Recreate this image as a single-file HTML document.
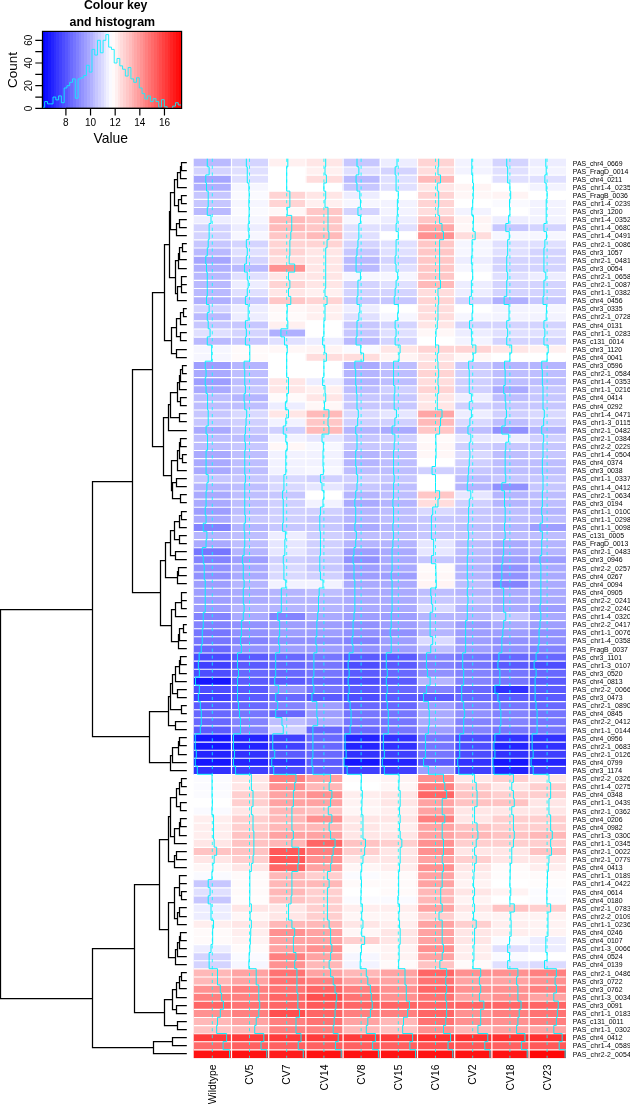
<!DOCTYPE html>
<html lang="en"><head><meta charset="utf-8"><title>Heatmap</title>
<style>html,body{margin:0;padding:0;background:#fff}svg{display:block}</style></head>
<body>
<svg width="630" height="1104" viewBox="0 0 630 1104" font-family="'Liberation Sans', Arial, Helvetica, sans-serif">
<rect width="630" height="1104" fill="#fff"/>
<g>
<rect x="193.7" y="158.7" width="37.5" height="8.4" fill="#babaff"/>
<rect x="230.9" y="158.7" width="37.5" height="8.4" fill="#d4d4ff"/>
<rect x="268.1" y="158.7" width="37.5" height="8.4" fill="#fff0f0"/>
<rect x="305.3" y="158.7" width="37.5" height="8.4" fill="#ffe6e6"/>
<rect x="342.5" y="158.7" width="37.5" height="8.4" fill="#c7c7ff"/>
<rect x="379.7" y="158.7" width="37.5" height="8.4" fill="#ededff"/>
<rect x="416.9" y="158.7" width="37.5" height="8.4" fill="#ffd4d4"/>
<rect x="454.1" y="158.7" width="37.5" height="8.4" fill="#f3f3ff"/>
<rect x="491.3" y="158.7" width="37.5" height="8.4" fill="#d4d4ff"/>
<rect x="528.5" y="158.7" width="37.5" height="8.4" fill="#ededff"/>
<rect x="193.7" y="166.8" width="37.5" height="8.4" fill="#d4d4ff"/>
<rect x="230.9" y="166.8" width="37.5" height="8.4" fill="#e0e0ff"/>
<rect x="268.1" y="166.8" width="37.5" height="8.4" fill="#ffffff"/>
<rect x="305.3" y="166.8" width="37.5" height="8.4" fill="#fff0f0"/>
<rect x="342.5" y="166.8" width="37.5" height="8.4" fill="#e0e0ff"/>
<rect x="379.7" y="166.8" width="37.5" height="8.4" fill="#d4d4ff"/>
<rect x="416.9" y="166.8" width="37.5" height="8.4" fill="#ffdddd"/>
<rect x="454.1" y="166.8" width="37.5" height="8.4" fill="#f3f3ff"/>
<rect x="491.3" y="166.8" width="37.5" height="8.4" fill="#e0e0ff"/>
<rect x="528.5" y="166.8" width="37.5" height="8.4" fill="#f3f3ff"/>
<rect x="193.7" y="174.9" width="37.5" height="8.4" fill="#a6a6ff"/>
<rect x="230.9" y="174.9" width="37.5" height="8.4" fill="#e0e0ff"/>
<rect x="268.1" y="174.9" width="37.5" height="8.4" fill="#ffffff"/>
<rect x="305.3" y="174.9" width="37.5" height="8.4" fill="#ffdddd"/>
<rect x="342.5" y="174.9" width="37.5" height="8.4" fill="#babaff"/>
<rect x="379.7" y="174.9" width="37.5" height="8.4" fill="#e0e0ff"/>
<rect x="416.9" y="174.9" width="37.5" height="8.4" fill="#ffbaba"/>
<rect x="454.1" y="174.9" width="37.5" height="8.4" fill="#ffffff"/>
<rect x="491.3" y="174.9" width="37.5" height="8.4" fill="#e0e0ff"/>
<rect x="528.5" y="174.9" width="37.5" height="8.4" fill="#e0e0ff"/>
<rect x="193.7" y="183" width="37.5" height="8.4" fill="#b0b0ff"/>
<rect x="230.9" y="183" width="37.5" height="8.4" fill="#f6f6ff"/>
<rect x="268.1" y="183" width="37.5" height="8.4" fill="#ffffff"/>
<rect x="305.3" y="183" width="37.5" height="8.4" fill="#ffffff"/>
<rect x="342.5" y="183" width="37.5" height="8.4" fill="#c7c7ff"/>
<rect x="379.7" y="183" width="37.5" height="8.4" fill="#e0e0ff"/>
<rect x="416.9" y="183" width="37.5" height="8.4" fill="#ffe6e6"/>
<rect x="454.1" y="183" width="37.5" height="8.4" fill="#fff4f4"/>
<rect x="491.3" y="183" width="37.5" height="8.4" fill="#ffffff"/>
<rect x="528.5" y="183" width="37.5" height="8.4" fill="#f3f3ff"/>
<rect x="193.7" y="191.1" width="37.5" height="8.4" fill="#c7c7ff"/>
<rect x="230.9" y="191.1" width="37.5" height="8.4" fill="#fafaff"/>
<rect x="268.1" y="191.1" width="37.5" height="8.4" fill="#ffd4d4"/>
<rect x="305.3" y="191.1" width="37.5" height="8.4" fill="#ffe6e6"/>
<rect x="342.5" y="191.1" width="37.5" height="8.4" fill="#ededff"/>
<rect x="379.7" y="191.1" width="37.5" height="8.4" fill="#ffffff"/>
<rect x="416.9" y="191.1" width="37.5" height="8.4" fill="#ffd4d4"/>
<rect x="454.1" y="191.1" width="37.5" height="8.4" fill="#fff7f7"/>
<rect x="491.3" y="191.1" width="37.5" height="8.4" fill="#fff4f4"/>
<rect x="528.5" y="191.1" width="37.5" height="8.4" fill="#ffffff"/>
<rect x="193.7" y="199.2" width="37.5" height="8.4" fill="#c7c7ff"/>
<rect x="230.9" y="199.2" width="37.5" height="8.4" fill="#f6f6ff"/>
<rect x="268.1" y="199.2" width="37.5" height="8.4" fill="#ffd4d4"/>
<rect x="305.3" y="199.2" width="37.5" height="8.4" fill="#fff0f0"/>
<rect x="342.5" y="199.2" width="37.5" height="8.4" fill="#f6f6ff"/>
<rect x="379.7" y="199.2" width="37.5" height="8.4" fill="#f3f3ff"/>
<rect x="416.9" y="199.2" width="37.5" height="8.4" fill="#ffd4d4"/>
<rect x="454.1" y="199.2" width="37.5" height="8.4" fill="#ffffff"/>
<rect x="491.3" y="199.2" width="37.5" height="8.4" fill="#fafaff"/>
<rect x="528.5" y="199.2" width="37.5" height="8.4" fill="#f3f3ff"/>
<rect x="193.7" y="207.3" width="37.5" height="8.4" fill="#babaff"/>
<rect x="230.9" y="207.3" width="37.5" height="8.4" fill="#fafaff"/>
<rect x="268.1" y="207.3" width="37.5" height="8.4" fill="#fff7f7"/>
<rect x="305.3" y="207.3" width="37.5" height="8.4" fill="#ffc7c7"/>
<rect x="342.5" y="207.3" width="37.5" height="8.4" fill="#d4d4ff"/>
<rect x="379.7" y="207.3" width="37.5" height="8.4" fill="#f3f3ff"/>
<rect x="416.9" y="207.3" width="37.5" height="8.4" fill="#ffdddd"/>
<rect x="454.1" y="207.3" width="37.5" height="8.4" fill="#f3f3ff"/>
<rect x="491.3" y="207.3" width="37.5" height="8.4" fill="#ffffff"/>
<rect x="528.5" y="207.3" width="37.5" height="8.4" fill="#f3f3ff"/>
<rect x="193.7" y="215.4" width="37.5" height="8.4" fill="#ededff"/>
<rect x="230.9" y="215.4" width="37.5" height="8.4" fill="#f6f6ff"/>
<rect x="268.1" y="215.4" width="37.5" height="8.4" fill="#ffbaba"/>
<rect x="305.3" y="215.4" width="37.5" height="8.4" fill="#ffc7c7"/>
<rect x="342.5" y="215.4" width="37.5" height="8.4" fill="#f6f6ff"/>
<rect x="379.7" y="215.4" width="37.5" height="8.4" fill="#ededff"/>
<rect x="416.9" y="215.4" width="37.5" height="8.4" fill="#ffc7c7"/>
<rect x="454.1" y="215.4" width="37.5" height="8.4" fill="#fff4f4"/>
<rect x="491.3" y="215.4" width="37.5" height="8.4" fill="#ededff"/>
<rect x="528.5" y="215.4" width="37.5" height="8.4" fill="#f3f3ff"/>
<rect x="193.7" y="223.5" width="37.5" height="8.4" fill="#d4d4ff"/>
<rect x="230.9" y="223.5" width="37.5" height="8.4" fill="#ededff"/>
<rect x="268.1" y="223.5" width="37.5" height="8.4" fill="#ffbaba"/>
<rect x="305.3" y="223.5" width="37.5" height="8.4" fill="#ffc7c7"/>
<rect x="342.5" y="223.5" width="37.5" height="8.4" fill="#e0e0ff"/>
<rect x="379.7" y="223.5" width="37.5" height="8.4" fill="#e0e0ff"/>
<rect x="416.9" y="223.5" width="37.5" height="8.4" fill="#ffa6a6"/>
<rect x="454.1" y="223.5" width="37.5" height="8.4" fill="#fff7f7"/>
<rect x="491.3" y="223.5" width="37.5" height="8.4" fill="#c7c7ff"/>
<rect x="528.5" y="223.5" width="37.5" height="8.4" fill="#d4d4ff"/>
<rect x="193.7" y="231.6" width="37.5" height="8.4" fill="#d4d4ff"/>
<rect x="230.9" y="231.6" width="37.5" height="8.4" fill="#f6f6ff"/>
<rect x="268.1" y="231.6" width="37.5" height="8.4" fill="#ffc7c7"/>
<rect x="305.3" y="231.6" width="37.5" height="8.4" fill="#ffbaba"/>
<rect x="342.5" y="231.6" width="37.5" height="8.4" fill="#e0e0ff"/>
<rect x="379.7" y="231.6" width="37.5" height="8.4" fill="#ffffff"/>
<rect x="416.9" y="231.6" width="37.5" height="8.4" fill="#ff9191"/>
<rect x="454.1" y="231.6" width="37.5" height="8.4" fill="#ffdddd"/>
<rect x="491.3" y="231.6" width="37.5" height="8.4" fill="#f6f6ff"/>
<rect x="528.5" y="231.6" width="37.5" height="8.4" fill="#f6f6ff"/>
<rect x="193.7" y="239.7" width="37.5" height="8.4" fill="#c7c7ff"/>
<rect x="230.9" y="239.7" width="37.5" height="8.4" fill="#d4d4ff"/>
<rect x="268.1" y="239.7" width="37.5" height="8.4" fill="#ffd4d4"/>
<rect x="305.3" y="239.7" width="37.5" height="8.4" fill="#ffd4d4"/>
<rect x="342.5" y="239.7" width="37.5" height="8.4" fill="#d4d4ff"/>
<rect x="379.7" y="239.7" width="37.5" height="8.4" fill="#e0e0ff"/>
<rect x="416.9" y="239.7" width="37.5" height="8.4" fill="#ffc7c7"/>
<rect x="454.1" y="239.7" width="37.5" height="8.4" fill="#f6f6ff"/>
<rect x="491.3" y="239.7" width="37.5" height="8.4" fill="#e0e0ff"/>
<rect x="528.5" y="239.7" width="37.5" height="8.4" fill="#e0e0ff"/>
<rect x="193.7" y="247.8" width="37.5" height="8.4" fill="#babaff"/>
<rect x="230.9" y="247.8" width="37.5" height="8.4" fill="#e0e0ff"/>
<rect x="268.1" y="247.8" width="37.5" height="8.4" fill="#ffd4d4"/>
<rect x="305.3" y="247.8" width="37.5" height="8.4" fill="#ffe6e6"/>
<rect x="342.5" y="247.8" width="37.5" height="8.4" fill="#c7c7ff"/>
<rect x="379.7" y="247.8" width="37.5" height="8.4" fill="#e0e0ff"/>
<rect x="416.9" y="247.8" width="37.5" height="8.4" fill="#ffc7c7"/>
<rect x="454.1" y="247.8" width="37.5" height="8.4" fill="#f6f6ff"/>
<rect x="491.3" y="247.8" width="37.5" height="8.4" fill="#e0e0ff"/>
<rect x="528.5" y="247.8" width="37.5" height="8.4" fill="#d4d4ff"/>
<rect x="193.7" y="255.9" width="37.5" height="8.4" fill="#a6a6ff"/>
<rect x="230.9" y="255.9" width="37.5" height="8.4" fill="#d4d4ff"/>
<rect x="268.1" y="255.9" width="37.5" height="8.4" fill="#ffdddd"/>
<rect x="305.3" y="255.9" width="37.5" height="8.4" fill="#ffe6e6"/>
<rect x="342.5" y="255.9" width="37.5" height="8.4" fill="#babaff"/>
<rect x="379.7" y="255.9" width="37.5" height="8.4" fill="#d4d4ff"/>
<rect x="416.9" y="255.9" width="37.5" height="8.4" fill="#ffc7c7"/>
<rect x="454.1" y="255.9" width="37.5" height="8.4" fill="#ededff"/>
<rect x="491.3" y="255.9" width="37.5" height="8.4" fill="#d4d4ff"/>
<rect x="528.5" y="255.9" width="37.5" height="8.4" fill="#d4d4ff"/>
<rect x="193.7" y="264" width="37.5" height="8.4" fill="#b0b0ff"/>
<rect x="230.9" y="264" width="37.5" height="8.4" fill="#babaff"/>
<rect x="268.1" y="264" width="37.5" height="8.4" fill="#ff9191"/>
<rect x="305.3" y="264" width="37.5" height="8.4" fill="#ffe6e6"/>
<rect x="342.5" y="264" width="37.5" height="8.4" fill="#babaff"/>
<rect x="379.7" y="264" width="37.5" height="8.4" fill="#e0e0ff"/>
<rect x="416.9" y="264" width="37.5" height="8.4" fill="#ffc7c7"/>
<rect x="454.1" y="264" width="37.5" height="8.4" fill="#f6f6ff"/>
<rect x="491.3" y="264" width="37.5" height="8.4" fill="#d4d4ff"/>
<rect x="528.5" y="264" width="37.5" height="8.4" fill="#d4d4ff"/>
<rect x="193.7" y="272.1" width="37.5" height="8.4" fill="#babaff"/>
<rect x="230.9" y="272.1" width="37.5" height="8.4" fill="#e0e0ff"/>
<rect x="268.1" y="272.1" width="37.5" height="8.4" fill="#ffe6e6"/>
<rect x="305.3" y="272.1" width="37.5" height="8.4" fill="#ffe6e6"/>
<rect x="342.5" y="272.1" width="37.5" height="8.4" fill="#f6f6ff"/>
<rect x="379.7" y="272.1" width="37.5" height="8.4" fill="#f6f6ff"/>
<rect x="416.9" y="272.1" width="37.5" height="8.4" fill="#ffc7c7"/>
<rect x="454.1" y="272.1" width="37.5" height="8.4" fill="#ffffff"/>
<rect x="491.3" y="272.1" width="37.5" height="8.4" fill="#e0e0ff"/>
<rect x="528.5" y="272.1" width="37.5" height="8.4" fill="#ededff"/>
<rect x="193.7" y="280.2" width="37.5" height="8.4" fill="#babaff"/>
<rect x="230.9" y="280.2" width="37.5" height="8.4" fill="#ededff"/>
<rect x="268.1" y="280.2" width="37.5" height="8.4" fill="#ffd4d4"/>
<rect x="305.3" y="280.2" width="37.5" height="8.4" fill="#ffe6e6"/>
<rect x="342.5" y="280.2" width="37.5" height="8.4" fill="#d4d4ff"/>
<rect x="379.7" y="280.2" width="37.5" height="8.4" fill="#e0e0ff"/>
<rect x="416.9" y="280.2" width="37.5" height="8.4" fill="#ffbaba"/>
<rect x="454.1" y="280.2" width="37.5" height="8.4" fill="#ededff"/>
<rect x="491.3" y="280.2" width="37.5" height="8.4" fill="#d4d4ff"/>
<rect x="528.5" y="280.2" width="37.5" height="8.4" fill="#d4d4ff"/>
<rect x="193.7" y="288.3" width="37.5" height="8.4" fill="#babaff"/>
<rect x="230.9" y="288.3" width="37.5" height="8.4" fill="#e0e0ff"/>
<rect x="268.1" y="288.3" width="37.5" height="8.4" fill="#ffe6e6"/>
<rect x="305.3" y="288.3" width="37.5" height="8.4" fill="#fff0f0"/>
<rect x="342.5" y="288.3" width="37.5" height="8.4" fill="#d4d4ff"/>
<rect x="379.7" y="288.3" width="37.5" height="8.4" fill="#d4d4ff"/>
<rect x="416.9" y="288.3" width="37.5" height="8.4" fill="#ffdddd"/>
<rect x="454.1" y="288.3" width="37.5" height="8.4" fill="#ededff"/>
<rect x="491.3" y="288.3" width="37.5" height="8.4" fill="#d4d4ff"/>
<rect x="528.5" y="288.3" width="37.5" height="8.4" fill="#d4d4ff"/>
<rect x="193.7" y="296.4" width="37.5" height="8.4" fill="#b0b0ff"/>
<rect x="230.9" y="296.4" width="37.5" height="8.4" fill="#c7c7ff"/>
<rect x="268.1" y="296.4" width="37.5" height="8.4" fill="#ffc7c7"/>
<rect x="305.3" y="296.4" width="37.5" height="8.4" fill="#ffd4d4"/>
<rect x="342.5" y="296.4" width="37.5" height="8.4" fill="#c7c7ff"/>
<rect x="379.7" y="296.4" width="37.5" height="8.4" fill="#c7c7ff"/>
<rect x="416.9" y="296.4" width="37.5" height="8.4" fill="#ffd4d4"/>
<rect x="454.1" y="296.4" width="37.5" height="8.4" fill="#d4d4ff"/>
<rect x="491.3" y="296.4" width="37.5" height="8.4" fill="#b0b0ff"/>
<rect x="528.5" y="296.4" width="37.5" height="8.4" fill="#c7c7ff"/>
<rect x="193.7" y="304.5" width="37.5" height="8.4" fill="#d4d4ff"/>
<rect x="230.9" y="304.5" width="37.5" height="8.4" fill="#ededff"/>
<rect x="268.1" y="304.5" width="37.5" height="8.4" fill="#fff7f7"/>
<rect x="305.3" y="304.5" width="37.5" height="8.4" fill="#fff0f0"/>
<rect x="342.5" y="304.5" width="37.5" height="8.4" fill="#ededff"/>
<rect x="379.7" y="304.5" width="37.5" height="8.4" fill="#ffffff"/>
<rect x="416.9" y="304.5" width="37.5" height="8.4" fill="#ffdddd"/>
<rect x="454.1" y="304.5" width="37.5" height="8.4" fill="#ffffff"/>
<rect x="491.3" y="304.5" width="37.5" height="8.4" fill="#f3f3ff"/>
<rect x="528.5" y="304.5" width="37.5" height="8.4" fill="#f6f6ff"/>
<rect x="193.7" y="312.6" width="37.5" height="8.4" fill="#babaff"/>
<rect x="230.9" y="312.6" width="37.5" height="8.4" fill="#ededff"/>
<rect x="268.1" y="312.6" width="37.5" height="8.4" fill="#fffafa"/>
<rect x="305.3" y="312.6" width="37.5" height="8.4" fill="#fff0f0"/>
<rect x="342.5" y="312.6" width="37.5" height="8.4" fill="#e0e0ff"/>
<rect x="379.7" y="312.6" width="37.5" height="8.4" fill="#f6f6ff"/>
<rect x="416.9" y="312.6" width="37.5" height="8.4" fill="#ffdddd"/>
<rect x="454.1" y="312.6" width="37.5" height="8.4" fill="#f6f6ff"/>
<rect x="491.3" y="312.6" width="37.5" height="8.4" fill="#f3f3ff"/>
<rect x="528.5" y="312.6" width="37.5" height="8.4" fill="#f3f3ff"/>
<rect x="193.7" y="320.7" width="37.5" height="8.4" fill="#c7c7ff"/>
<rect x="230.9" y="320.7" width="37.5" height="8.4" fill="#c7c7ff"/>
<rect x="268.1" y="320.7" width="37.5" height="8.4" fill="#fff0f0"/>
<rect x="305.3" y="320.7" width="37.5" height="8.4" fill="#ffffff"/>
<rect x="342.5" y="320.7" width="37.5" height="8.4" fill="#c7c7ff"/>
<rect x="379.7" y="320.7" width="37.5" height="8.4" fill="#d4d4ff"/>
<rect x="416.9" y="320.7" width="37.5" height="8.4" fill="#ffe6e6"/>
<rect x="454.1" y="320.7" width="37.5" height="8.4" fill="#d4d4ff"/>
<rect x="491.3" y="320.7" width="37.5" height="8.4" fill="#d4d4ff"/>
<rect x="528.5" y="320.7" width="37.5" height="8.4" fill="#d4d4ff"/>
<rect x="193.7" y="328.8" width="37.5" height="8.4" fill="#e0e0ff"/>
<rect x="230.9" y="328.8" width="37.5" height="8.4" fill="#d4d4ff"/>
<rect x="268.1" y="328.8" width="37.5" height="8.4" fill="#b0b0ff"/>
<rect x="305.3" y="328.8" width="37.5" height="8.4" fill="#ffffff"/>
<rect x="342.5" y="328.8" width="37.5" height="8.4" fill="#c7c7ff"/>
<rect x="379.7" y="328.8" width="37.5" height="8.4" fill="#e0e0ff"/>
<rect x="416.9" y="328.8" width="37.5" height="8.4" fill="#fff7f7"/>
<rect x="454.1" y="328.8" width="37.5" height="8.4" fill="#ededff"/>
<rect x="491.3" y="328.8" width="37.5" height="8.4" fill="#e0e0ff"/>
<rect x="528.5" y="328.8" width="37.5" height="8.4" fill="#e0e0ff"/>
<rect x="193.7" y="336.9" width="37.5" height="8.4" fill="#babaff"/>
<rect x="230.9" y="336.9" width="37.5" height="8.4" fill="#c7c7ff"/>
<rect x="268.1" y="336.9" width="37.5" height="8.4" fill="#e0e0ff"/>
<rect x="305.3" y="336.9" width="37.5" height="8.4" fill="#ededff"/>
<rect x="342.5" y="336.9" width="37.5" height="8.4" fill="#babaff"/>
<rect x="379.7" y="336.9" width="37.5" height="8.4" fill="#d4d4ff"/>
<rect x="416.9" y="336.9" width="37.5" height="8.4" fill="#ffffff"/>
<rect x="454.1" y="336.9" width="37.5" height="8.4" fill="#f3f3ff"/>
<rect x="491.3" y="336.9" width="37.5" height="8.4" fill="#d4d4ff"/>
<rect x="528.5" y="336.9" width="37.5" height="8.4" fill="#d4d4ff"/>
<rect x="193.7" y="345" width="37.5" height="8.4" fill="#f6f6ff"/>
<rect x="230.9" y="345" width="37.5" height="8.4" fill="#fffafa"/>
<rect x="268.1" y="345" width="37.5" height="8.4" fill="#fff7f7"/>
<rect x="305.3" y="345" width="37.5" height="8.4" fill="#fff4f4"/>
<rect x="342.5" y="345" width="37.5" height="8.4" fill="#fafaff"/>
<rect x="379.7" y="345" width="37.5" height="8.4" fill="#ffe6e6"/>
<rect x="416.9" y="345" width="37.5" height="8.4" fill="#ffd4d4"/>
<rect x="454.1" y="345" width="37.5" height="8.4" fill="#ffd4d4"/>
<rect x="491.3" y="345" width="37.5" height="8.4" fill="#ffe6e6"/>
<rect x="528.5" y="345" width="37.5" height="8.4" fill="#fff0f0"/>
<rect x="193.7" y="353.1" width="37.5" height="8.4" fill="#f6f6ff"/>
<rect x="230.9" y="353.1" width="37.5" height="8.4" fill="#fffafa"/>
<rect x="268.1" y="353.1" width="37.5" height="8.4" fill="#ffffff"/>
<rect x="305.3" y="353.1" width="37.5" height="8.4" fill="#ffdddd"/>
<rect x="342.5" y="353.1" width="37.5" height="8.4" fill="#ffdddd"/>
<rect x="379.7" y="353.1" width="37.5" height="8.4" fill="#fff4f4"/>
<rect x="416.9" y="353.1" width="37.5" height="8.4" fill="#ffe6e6"/>
<rect x="454.1" y="353.1" width="37.5" height="8.4" fill="#fff7f7"/>
<rect x="491.3" y="353.1" width="37.5" height="8.4" fill="#ffffff"/>
<rect x="528.5" y="353.1" width="37.5" height="8.4" fill="#ffffff"/>
<rect x="193.7" y="361.2" width="37.5" height="8.4" fill="#9e9eff"/>
<rect x="230.9" y="361.2" width="37.5" height="8.4" fill="#b5b5ff"/>
<rect x="268.1" y="361.2" width="37.5" height="8.4" fill="#ffffff"/>
<rect x="305.3" y="361.2" width="37.5" height="8.4" fill="#ffffff"/>
<rect x="342.5" y="361.2" width="37.5" height="8.4" fill="#aaaaff"/>
<rect x="379.7" y="361.2" width="37.5" height="8.4" fill="#bebeff"/>
<rect x="416.9" y="361.2" width="37.5" height="8.4" fill="#ffdddd"/>
<rect x="454.1" y="361.2" width="37.5" height="8.4" fill="#c7c7ff"/>
<rect x="491.3" y="361.2" width="37.5" height="8.4" fill="#b5b5ff"/>
<rect x="528.5" y="361.2" width="37.5" height="8.4" fill="#b5b5ff"/>
<rect x="193.7" y="369.3" width="37.5" height="8.4" fill="#aaaaff"/>
<rect x="230.9" y="369.3" width="37.5" height="8.4" fill="#bebeff"/>
<rect x="268.1" y="369.3" width="37.5" height="8.4" fill="#ffffff"/>
<rect x="305.3" y="369.3" width="37.5" height="8.4" fill="#ffffff"/>
<rect x="342.5" y="369.3" width="37.5" height="8.4" fill="#b5b5ff"/>
<rect x="379.7" y="369.3" width="37.5" height="8.4" fill="#bebeff"/>
<rect x="416.9" y="369.3" width="37.5" height="8.4" fill="#ffd4d4"/>
<rect x="454.1" y="369.3" width="37.5" height="8.4" fill="#d0d0ff"/>
<rect x="491.3" y="369.3" width="37.5" height="8.4" fill="#bebeff"/>
<rect x="528.5" y="369.3" width="37.5" height="8.4" fill="#bebeff"/>
<rect x="193.7" y="377.4" width="37.5" height="8.4" fill="#9e9eff"/>
<rect x="230.9" y="377.4" width="37.5" height="8.4" fill="#bebeff"/>
<rect x="268.1" y="377.4" width="37.5" height="8.4" fill="#ffe6e6"/>
<rect x="305.3" y="377.4" width="37.5" height="8.4" fill="#ededff"/>
<rect x="342.5" y="377.4" width="37.5" height="8.4" fill="#b5b5ff"/>
<rect x="379.7" y="377.4" width="37.5" height="8.4" fill="#bebeff"/>
<rect x="416.9" y="377.4" width="37.5" height="8.4" fill="#ffdddd"/>
<rect x="454.1" y="377.4" width="37.5" height="8.4" fill="#d0d0ff"/>
<rect x="491.3" y="377.4" width="37.5" height="8.4" fill="#bebeff"/>
<rect x="528.5" y="377.4" width="37.5" height="8.4" fill="#bebeff"/>
<rect x="193.7" y="385.5" width="37.5" height="8.4" fill="#aaaaff"/>
<rect x="230.9" y="385.5" width="37.5" height="8.4" fill="#c7c7ff"/>
<rect x="268.1" y="385.5" width="37.5" height="8.4" fill="#ffe6e6"/>
<rect x="305.3" y="385.5" width="37.5" height="8.4" fill="#fff0f0"/>
<rect x="342.5" y="385.5" width="37.5" height="8.4" fill="#bebeff"/>
<rect x="379.7" y="385.5" width="37.5" height="8.4" fill="#d0d0ff"/>
<rect x="416.9" y="385.5" width="37.5" height="8.4" fill="#ffd4d4"/>
<rect x="454.1" y="385.5" width="37.5" height="8.4" fill="#d0d0ff"/>
<rect x="491.3" y="385.5" width="37.5" height="8.4" fill="#aaaaff"/>
<rect x="528.5" y="385.5" width="37.5" height="8.4" fill="#c7c7ff"/>
<rect x="193.7" y="393.6" width="37.5" height="8.4" fill="#bebeff"/>
<rect x="230.9" y="393.6" width="37.5" height="8.4" fill="#b5b5ff"/>
<rect x="268.1" y="393.6" width="37.5" height="8.4" fill="#fffafa"/>
<rect x="305.3" y="393.6" width="37.5" height="8.4" fill="#ffe6e6"/>
<rect x="342.5" y="393.6" width="37.5" height="8.4" fill="#c7c7ff"/>
<rect x="379.7" y="393.6" width="37.5" height="8.4" fill="#c7c7ff"/>
<rect x="416.9" y="393.6" width="37.5" height="8.4" fill="#ffe6e6"/>
<rect x="454.1" y="393.6" width="37.5" height="8.4" fill="#ededff"/>
<rect x="491.3" y="393.6" width="37.5" height="8.4" fill="#bebeff"/>
<rect x="528.5" y="393.6" width="37.5" height="8.4" fill="#c7c7ff"/>
<rect x="193.7" y="401.7" width="37.5" height="8.4" fill="#bebeff"/>
<rect x="230.9" y="401.7" width="37.5" height="8.4" fill="#bebeff"/>
<rect x="268.1" y="401.7" width="37.5" height="8.4" fill="#ededff"/>
<rect x="305.3" y="401.7" width="37.5" height="8.4" fill="#fff7f7"/>
<rect x="342.5" y="401.7" width="37.5" height="8.4" fill="#c7c7ff"/>
<rect x="379.7" y="401.7" width="37.5" height="8.4" fill="#c7c7ff"/>
<rect x="416.9" y="401.7" width="37.5" height="8.4" fill="#ffe6e6"/>
<rect x="454.1" y="401.7" width="37.5" height="8.4" fill="#d0d0ff"/>
<rect x="491.3" y="401.7" width="37.5" height="8.4" fill="#c7c7ff"/>
<rect x="528.5" y="401.7" width="37.5" height="8.4" fill="#c7c7ff"/>
<rect x="193.7" y="409.8" width="37.5" height="8.4" fill="#c7c7ff"/>
<rect x="230.9" y="409.8" width="37.5" height="8.4" fill="#d9d9ff"/>
<rect x="268.1" y="409.8" width="37.5" height="8.4" fill="#ffe6e6"/>
<rect x="305.3" y="409.8" width="37.5" height="8.4" fill="#ffbaba"/>
<rect x="342.5" y="409.8" width="37.5" height="8.4" fill="#d9d9ff"/>
<rect x="379.7" y="409.8" width="37.5" height="8.4" fill="#e6e6ff"/>
<rect x="416.9" y="409.8" width="37.5" height="8.4" fill="#ffa6a6"/>
<rect x="454.1" y="409.8" width="37.5" height="8.4" fill="#ededff"/>
<rect x="491.3" y="409.8" width="37.5" height="8.4" fill="#d0d0ff"/>
<rect x="528.5" y="409.8" width="37.5" height="8.4" fill="#d9d9ff"/>
<rect x="193.7" y="417.9" width="37.5" height="8.4" fill="#c7c7ff"/>
<rect x="230.9" y="417.9" width="37.5" height="8.4" fill="#d0d0ff"/>
<rect x="268.1" y="417.9" width="37.5" height="8.4" fill="#f2f2ff"/>
<rect x="305.3" y="417.9" width="37.5" height="8.4" fill="#ffc7c7"/>
<rect x="342.5" y="417.9" width="37.5" height="8.4" fill="#d0d0ff"/>
<rect x="379.7" y="417.9" width="37.5" height="8.4" fill="#d0d0ff"/>
<rect x="416.9" y="417.9" width="37.5" height="8.4" fill="#ffbaba"/>
<rect x="454.1" y="417.9" width="37.5" height="8.4" fill="#d9d9ff"/>
<rect x="491.3" y="417.9" width="37.5" height="8.4" fill="#bebeff"/>
<rect x="528.5" y="417.9" width="37.5" height="8.4" fill="#d0d0ff"/>
<rect x="193.7" y="426" width="37.5" height="8.4" fill="#aaaaff"/>
<rect x="230.9" y="426" width="37.5" height="8.4" fill="#c7c7ff"/>
<rect x="268.1" y="426" width="37.5" height="8.4" fill="#d0d0ff"/>
<rect x="305.3" y="426" width="37.5" height="8.4" fill="#ffbaba"/>
<rect x="342.5" y="426" width="37.5" height="8.4" fill="#b5b5ff"/>
<rect x="379.7" y="426" width="37.5" height="8.4" fill="#aaaaff"/>
<rect x="416.9" y="426" width="37.5" height="8.4" fill="#ffc7c7"/>
<rect x="454.1" y="426" width="37.5" height="8.4" fill="#bebeff"/>
<rect x="491.3" y="426" width="37.5" height="8.4" fill="#9191ff"/>
<rect x="528.5" y="426" width="37.5" height="8.4" fill="#b5b5ff"/>
<rect x="193.7" y="434.1" width="37.5" height="8.4" fill="#bebeff"/>
<rect x="230.9" y="434.1" width="37.5" height="8.4" fill="#bebeff"/>
<rect x="268.1" y="434.1" width="37.5" height="8.4" fill="#f2f2ff"/>
<rect x="305.3" y="434.1" width="37.5" height="8.4" fill="#e6e6ff"/>
<rect x="342.5" y="434.1" width="37.5" height="8.4" fill="#c7c7ff"/>
<rect x="379.7" y="434.1" width="37.5" height="8.4" fill="#d0d0ff"/>
<rect x="416.9" y="434.1" width="37.5" height="8.4" fill="#fffafa"/>
<rect x="454.1" y="434.1" width="37.5" height="8.4" fill="#e6e6ff"/>
<rect x="491.3" y="434.1" width="37.5" height="8.4" fill="#ededff"/>
<rect x="528.5" y="434.1" width="37.5" height="8.4" fill="#d0d0ff"/>
<rect x="193.7" y="442.2" width="37.5" height="8.4" fill="#bebeff"/>
<rect x="230.9" y="442.2" width="37.5" height="8.4" fill="#c7c7ff"/>
<rect x="268.1" y="442.2" width="37.5" height="8.4" fill="#fff7f7"/>
<rect x="305.3" y="442.2" width="37.5" height="8.4" fill="#f7f7ff"/>
<rect x="342.5" y="442.2" width="37.5" height="8.4" fill="#c7c7ff"/>
<rect x="379.7" y="442.2" width="37.5" height="8.4" fill="#c7c7ff"/>
<rect x="416.9" y="442.2" width="37.5" height="8.4" fill="#fff7f7"/>
<rect x="454.1" y="442.2" width="37.5" height="8.4" fill="#d0d0ff"/>
<rect x="491.3" y="442.2" width="37.5" height="8.4" fill="#c7c7ff"/>
<rect x="528.5" y="442.2" width="37.5" height="8.4" fill="#c7c7ff"/>
<rect x="193.7" y="450.3" width="37.5" height="8.4" fill="#aaaaff"/>
<rect x="230.9" y="450.3" width="37.5" height="8.4" fill="#bebeff"/>
<rect x="268.1" y="450.3" width="37.5" height="8.4" fill="#f2f2ff"/>
<rect x="305.3" y="450.3" width="37.5" height="8.4" fill="#f2f2ff"/>
<rect x="342.5" y="450.3" width="37.5" height="8.4" fill="#b5b5ff"/>
<rect x="379.7" y="450.3" width="37.5" height="8.4" fill="#bebeff"/>
<rect x="416.9" y="450.3" width="37.5" height="8.4" fill="#fff7f7"/>
<rect x="454.1" y="450.3" width="37.5" height="8.4" fill="#d9d9ff"/>
<rect x="491.3" y="450.3" width="37.5" height="8.4" fill="#bebeff"/>
<rect x="528.5" y="450.3" width="37.5" height="8.4" fill="#c7c7ff"/>
<rect x="193.7" y="458.4" width="37.5" height="8.4" fill="#aaaaff"/>
<rect x="230.9" y="458.4" width="37.5" height="8.4" fill="#bebeff"/>
<rect x="268.1" y="458.4" width="37.5" height="8.4" fill="#f2f2ff"/>
<rect x="305.3" y="458.4" width="37.5" height="8.4" fill="#f2f2ff"/>
<rect x="342.5" y="458.4" width="37.5" height="8.4" fill="#b5b5ff"/>
<rect x="379.7" y="458.4" width="37.5" height="8.4" fill="#bebeff"/>
<rect x="416.9" y="458.4" width="37.5" height="8.4" fill="#ffffff"/>
<rect x="454.1" y="458.4" width="37.5" height="8.4" fill="#d0d0ff"/>
<rect x="491.3" y="458.4" width="37.5" height="8.4" fill="#bebeff"/>
<rect x="528.5" y="458.4" width="37.5" height="8.4" fill="#bebeff"/>
<rect x="193.7" y="466.5" width="37.5" height="8.4" fill="#aaaaff"/>
<rect x="230.9" y="466.5" width="37.5" height="8.4" fill="#bebeff"/>
<rect x="268.1" y="466.5" width="37.5" height="8.4" fill="#f2f2ff"/>
<rect x="305.3" y="466.5" width="37.5" height="8.4" fill="#f7f7ff"/>
<rect x="342.5" y="466.5" width="37.5" height="8.4" fill="#bebeff"/>
<rect x="379.7" y="466.5" width="37.5" height="8.4" fill="#bebeff"/>
<rect x="416.9" y="466.5" width="37.5" height="8.4" fill="#d0d0ff"/>
<rect x="454.1" y="466.5" width="37.5" height="8.4" fill="#c7c7ff"/>
<rect x="491.3" y="466.5" width="37.5" height="8.4" fill="#bebeff"/>
<rect x="528.5" y="466.5" width="37.5" height="8.4" fill="#bebeff"/>
<rect x="193.7" y="474.6" width="37.5" height="8.4" fill="#c7c7ff"/>
<rect x="230.9" y="474.6" width="37.5" height="8.4" fill="#c7c7ff"/>
<rect x="268.1" y="474.6" width="37.5" height="8.4" fill="#d9d9ff"/>
<rect x="305.3" y="474.6" width="37.5" height="8.4" fill="#d0d0ff"/>
<rect x="342.5" y="474.6" width="37.5" height="8.4" fill="#d0d0ff"/>
<rect x="379.7" y="474.6" width="37.5" height="8.4" fill="#c7c7ff"/>
<rect x="416.9" y="474.6" width="37.5" height="8.4" fill="#ffffff"/>
<rect x="454.1" y="474.6" width="37.5" height="8.4" fill="#bebeff"/>
<rect x="491.3" y="474.6" width="37.5" height="8.4" fill="#c7c7ff"/>
<rect x="528.5" y="474.6" width="37.5" height="8.4" fill="#c7c7ff"/>
<rect x="193.7" y="482.7" width="37.5" height="8.4" fill="#b5b5ff"/>
<rect x="230.9" y="482.7" width="37.5" height="8.4" fill="#bebeff"/>
<rect x="268.1" y="482.7" width="37.5" height="8.4" fill="#d9d9ff"/>
<rect x="305.3" y="482.7" width="37.5" height="8.4" fill="#e6e6ff"/>
<rect x="342.5" y="482.7" width="37.5" height="8.4" fill="#c7c7ff"/>
<rect x="379.7" y="482.7" width="37.5" height="8.4" fill="#bebeff"/>
<rect x="416.9" y="482.7" width="37.5" height="8.4" fill="#ffffff"/>
<rect x="454.1" y="482.7" width="37.5" height="8.4" fill="#b5b5ff"/>
<rect x="491.3" y="482.7" width="37.5" height="8.4" fill="#9191ff"/>
<rect x="528.5" y="482.7" width="37.5" height="8.4" fill="#c7c7ff"/>
<rect x="193.7" y="490.8" width="37.5" height="8.4" fill="#aaaaff"/>
<rect x="230.9" y="490.8" width="37.5" height="8.4" fill="#bebeff"/>
<rect x="268.1" y="490.8" width="37.5" height="8.4" fill="#c7c7ff"/>
<rect x="305.3" y="490.8" width="37.5" height="8.4" fill="#ffffff"/>
<rect x="342.5" y="490.8" width="37.5" height="8.4" fill="#b5b5ff"/>
<rect x="379.7" y="490.8" width="37.5" height="8.4" fill="#bebeff"/>
<rect x="416.9" y="490.8" width="37.5" height="8.4" fill="#ffc7c7"/>
<rect x="454.1" y="490.8" width="37.5" height="8.4" fill="#e6e6ff"/>
<rect x="491.3" y="490.8" width="37.5" height="8.4" fill="#b5b5ff"/>
<rect x="528.5" y="490.8" width="37.5" height="8.4" fill="#bebeff"/>
<rect x="193.7" y="498.9" width="37.5" height="8.4" fill="#aaaaff"/>
<rect x="230.9" y="498.9" width="37.5" height="8.4" fill="#bebeff"/>
<rect x="268.1" y="498.9" width="37.5" height="8.4" fill="#d0d0ff"/>
<rect x="305.3" y="498.9" width="37.5" height="8.4" fill="#f2f2ff"/>
<rect x="342.5" y="498.9" width="37.5" height="8.4" fill="#aaaaff"/>
<rect x="379.7" y="498.9" width="37.5" height="8.4" fill="#b5b5ff"/>
<rect x="416.9" y="498.9" width="37.5" height="8.4" fill="#ffdddd"/>
<rect x="454.1" y="498.9" width="37.5" height="8.4" fill="#d0d0ff"/>
<rect x="491.3" y="498.9" width="37.5" height="8.4" fill="#b5b5ff"/>
<rect x="528.5" y="498.9" width="37.5" height="8.4" fill="#bebeff"/>
<rect x="193.7" y="507" width="37.5" height="8.4" fill="#9e9eff"/>
<rect x="230.9" y="507" width="37.5" height="8.4" fill="#bebeff"/>
<rect x="268.1" y="507" width="37.5" height="8.4" fill="#d0d0ff"/>
<rect x="305.3" y="507" width="37.5" height="8.4" fill="#d0d0ff"/>
<rect x="342.5" y="507" width="37.5" height="8.4" fill="#b5b5ff"/>
<rect x="379.7" y="507" width="37.5" height="8.4" fill="#bebeff"/>
<rect x="416.9" y="507" width="37.5" height="8.4" fill="#d9d9ff"/>
<rect x="454.1" y="507" width="37.5" height="8.4" fill="#c7c7ff"/>
<rect x="491.3" y="507" width="37.5" height="8.4" fill="#bebeff"/>
<rect x="528.5" y="507" width="37.5" height="8.4" fill="#b5b5ff"/>
<rect x="193.7" y="515.1" width="37.5" height="8.4" fill="#aaaaff"/>
<rect x="230.9" y="515.1" width="37.5" height="8.4" fill="#c7c7ff"/>
<rect x="268.1" y="515.1" width="37.5" height="8.4" fill="#d0d0ff"/>
<rect x="305.3" y="515.1" width="37.5" height="8.4" fill="#c7c7ff"/>
<rect x="342.5" y="515.1" width="37.5" height="8.4" fill="#b5b5ff"/>
<rect x="379.7" y="515.1" width="37.5" height="8.4" fill="#bebeff"/>
<rect x="416.9" y="515.1" width="37.5" height="8.4" fill="#c7c7ff"/>
<rect x="454.1" y="515.1" width="37.5" height="8.4" fill="#c7c7ff"/>
<rect x="491.3" y="515.1" width="37.5" height="8.4" fill="#bebeff"/>
<rect x="528.5" y="515.1" width="37.5" height="8.4" fill="#bebeff"/>
<rect x="193.7" y="523.2" width="37.5" height="8.4" fill="#8383ff"/>
<rect x="230.9" y="523.2" width="37.5" height="8.4" fill="#b5b5ff"/>
<rect x="268.1" y="523.2" width="37.5" height="8.4" fill="#c7c7ff"/>
<rect x="305.3" y="523.2" width="37.5" height="8.4" fill="#c7c7ff"/>
<rect x="342.5" y="523.2" width="37.5" height="8.4" fill="#aaaaff"/>
<rect x="379.7" y="523.2" width="37.5" height="8.4" fill="#b5b5ff"/>
<rect x="416.9" y="523.2" width="37.5" height="8.4" fill="#c7c7ff"/>
<rect x="454.1" y="523.2" width="37.5" height="8.4" fill="#bebeff"/>
<rect x="491.3" y="523.2" width="37.5" height="8.4" fill="#b5b5ff"/>
<rect x="528.5" y="523.2" width="37.5" height="8.4" fill="#9e9eff"/>
<rect x="193.7" y="531.3" width="37.5" height="8.4" fill="#b5b5ff"/>
<rect x="230.9" y="531.3" width="37.5" height="8.4" fill="#bebeff"/>
<rect x="268.1" y="531.3" width="37.5" height="8.4" fill="#ededff"/>
<rect x="305.3" y="531.3" width="37.5" height="8.4" fill="#d0d0ff"/>
<rect x="342.5" y="531.3" width="37.5" height="8.4" fill="#bebeff"/>
<rect x="379.7" y="531.3" width="37.5" height="8.4" fill="#bebeff"/>
<rect x="416.9" y="531.3" width="37.5" height="8.4" fill="#c7c7ff"/>
<rect x="454.1" y="531.3" width="37.5" height="8.4" fill="#c7c7ff"/>
<rect x="491.3" y="531.3" width="37.5" height="8.4" fill="#bebeff"/>
<rect x="528.5" y="531.3" width="37.5" height="8.4" fill="#bebeff"/>
<rect x="193.7" y="539.4" width="37.5" height="8.4" fill="#aaaaff"/>
<rect x="230.9" y="539.4" width="37.5" height="8.4" fill="#bebeff"/>
<rect x="268.1" y="539.4" width="37.5" height="8.4" fill="#e6e6ff"/>
<rect x="305.3" y="539.4" width="37.5" height="8.4" fill="#d0d0ff"/>
<rect x="342.5" y="539.4" width="37.5" height="8.4" fill="#b5b5ff"/>
<rect x="379.7" y="539.4" width="37.5" height="8.4" fill="#b5b5ff"/>
<rect x="416.9" y="539.4" width="37.5" height="8.4" fill="#e6e6ff"/>
<rect x="454.1" y="539.4" width="37.5" height="8.4" fill="#bebeff"/>
<rect x="491.3" y="539.4" width="37.5" height="8.4" fill="#aaaaff"/>
<rect x="528.5" y="539.4" width="37.5" height="8.4" fill="#b5b5ff"/>
<rect x="193.7" y="547.5" width="37.5" height="8.4" fill="#7676ff"/>
<rect x="230.9" y="547.5" width="37.5" height="8.4" fill="#b5b5ff"/>
<rect x="268.1" y="547.5" width="37.5" height="8.4" fill="#e6e6ff"/>
<rect x="305.3" y="547.5" width="37.5" height="8.4" fill="#d0d0ff"/>
<rect x="342.5" y="547.5" width="37.5" height="8.4" fill="#9e9eff"/>
<rect x="379.7" y="547.5" width="37.5" height="8.4" fill="#aaaaff"/>
<rect x="416.9" y="547.5" width="37.5" height="8.4" fill="#e6e6ff"/>
<rect x="454.1" y="547.5" width="37.5" height="8.4" fill="#bebeff"/>
<rect x="491.3" y="547.5" width="37.5" height="8.4" fill="#aaaaff"/>
<rect x="528.5" y="547.5" width="37.5" height="8.4" fill="#b5b5ff"/>
<rect x="193.7" y="555.6" width="37.5" height="8.4" fill="#8383ff"/>
<rect x="230.9" y="555.6" width="37.5" height="8.4" fill="#9e9eff"/>
<rect x="268.1" y="555.6" width="37.5" height="8.4" fill="#d0d0ff"/>
<rect x="305.3" y="555.6" width="37.5" height="8.4" fill="#c7c7ff"/>
<rect x="342.5" y="555.6" width="37.5" height="8.4" fill="#9191ff"/>
<rect x="379.7" y="555.6" width="37.5" height="8.4" fill="#aaaaff"/>
<rect x="416.9" y="555.6" width="37.5" height="8.4" fill="#c7c7ff"/>
<rect x="454.1" y="555.6" width="37.5" height="8.4" fill="#b5b5ff"/>
<rect x="491.3" y="555.6" width="37.5" height="8.4" fill="#9e9eff"/>
<rect x="528.5" y="555.6" width="37.5" height="8.4" fill="#9e9eff"/>
<rect x="193.7" y="563.7" width="37.5" height="8.4" fill="#9191ff"/>
<rect x="230.9" y="563.7" width="37.5" height="8.4" fill="#aaaaff"/>
<rect x="268.1" y="563.7" width="37.5" height="8.4" fill="#d9d9ff"/>
<rect x="305.3" y="563.7" width="37.5" height="8.4" fill="#c7c7ff"/>
<rect x="342.5" y="563.7" width="37.5" height="8.4" fill="#9e9eff"/>
<rect x="379.7" y="563.7" width="37.5" height="8.4" fill="#aaaaff"/>
<rect x="416.9" y="563.7" width="37.5" height="8.4" fill="#fffafa"/>
<rect x="454.1" y="563.7" width="37.5" height="8.4" fill="#b5b5ff"/>
<rect x="491.3" y="563.7" width="37.5" height="8.4" fill="#9191ff"/>
<rect x="528.5" y="563.7" width="37.5" height="8.4" fill="#aaaaff"/>
<rect x="193.7" y="571.8" width="37.5" height="8.4" fill="#9191ff"/>
<rect x="230.9" y="571.8" width="37.5" height="8.4" fill="#aaaaff"/>
<rect x="268.1" y="571.8" width="37.5" height="8.4" fill="#d9d9ff"/>
<rect x="305.3" y="571.8" width="37.5" height="8.4" fill="#d0d0ff"/>
<rect x="342.5" y="571.8" width="37.5" height="8.4" fill="#9e9eff"/>
<rect x="379.7" y="571.8" width="37.5" height="8.4" fill="#9e9eff"/>
<rect x="416.9" y="571.8" width="37.5" height="8.4" fill="#fff7f7"/>
<rect x="454.1" y="571.8" width="37.5" height="8.4" fill="#b5b5ff"/>
<rect x="491.3" y="571.8" width="37.5" height="8.4" fill="#9191ff"/>
<rect x="528.5" y="571.8" width="37.5" height="8.4" fill="#aaaaff"/>
<rect x="193.7" y="579.9" width="37.5" height="8.4" fill="#9e9eff"/>
<rect x="230.9" y="579.9" width="37.5" height="8.4" fill="#b5b5ff"/>
<rect x="268.1" y="579.9" width="37.5" height="8.4" fill="#f2f2ff"/>
<rect x="305.3" y="579.9" width="37.5" height="8.4" fill="#f2f2ff"/>
<rect x="342.5" y="579.9" width="37.5" height="8.4" fill="#aaaaff"/>
<rect x="379.7" y="579.9" width="37.5" height="8.4" fill="#aaaaff"/>
<rect x="416.9" y="579.9" width="37.5" height="8.4" fill="#fff4f4"/>
<rect x="454.1" y="579.9" width="37.5" height="8.4" fill="#bebeff"/>
<rect x="491.3" y="579.9" width="37.5" height="8.4" fill="#8383ff"/>
<rect x="528.5" y="579.9" width="37.5" height="8.4" fill="#aaaaff"/>
<rect x="193.7" y="588" width="37.5" height="8.4" fill="#9e9eff"/>
<rect x="230.9" y="588" width="37.5" height="8.4" fill="#aaaaff"/>
<rect x="268.1" y="588" width="37.5" height="8.4" fill="#b5b5ff"/>
<rect x="305.3" y="588" width="37.5" height="8.4" fill="#bebeff"/>
<rect x="342.5" y="588" width="37.5" height="8.4" fill="#aaaaff"/>
<rect x="379.7" y="588" width="37.5" height="8.4" fill="#aaaaff"/>
<rect x="416.9" y="588" width="37.5" height="8.4" fill="#bebeff"/>
<rect x="454.1" y="588" width="37.5" height="8.4" fill="#b5b5ff"/>
<rect x="491.3" y="588" width="37.5" height="8.4" fill="#aaaaff"/>
<rect x="528.5" y="588" width="37.5" height="8.4" fill="#aaaaff"/>
<rect x="193.7" y="596.1" width="37.5" height="8.4" fill="#9e9eff"/>
<rect x="230.9" y="596.1" width="37.5" height="8.4" fill="#aaaaff"/>
<rect x="268.1" y="596.1" width="37.5" height="8.4" fill="#b5b5ff"/>
<rect x="305.3" y="596.1" width="37.5" height="8.4" fill="#b5b5ff"/>
<rect x="342.5" y="596.1" width="37.5" height="8.4" fill="#aaaaff"/>
<rect x="379.7" y="596.1" width="37.5" height="8.4" fill="#aaaaff"/>
<rect x="416.9" y="596.1" width="37.5" height="8.4" fill="#c7c7ff"/>
<rect x="454.1" y="596.1" width="37.5" height="8.4" fill="#bebeff"/>
<rect x="491.3" y="596.1" width="37.5" height="8.4" fill="#aaaaff"/>
<rect x="528.5" y="596.1" width="37.5" height="8.4" fill="#aaaaff"/>
<rect x="193.7" y="604.2" width="37.5" height="8.4" fill="#9e9eff"/>
<rect x="230.9" y="604.2" width="37.5" height="8.4" fill="#b5b5ff"/>
<rect x="268.1" y="604.2" width="37.5" height="8.4" fill="#b5b5ff"/>
<rect x="305.3" y="604.2" width="37.5" height="8.4" fill="#b5b5ff"/>
<rect x="342.5" y="604.2" width="37.5" height="8.4" fill="#aaaaff"/>
<rect x="379.7" y="604.2" width="37.5" height="8.4" fill="#aaaaff"/>
<rect x="416.9" y="604.2" width="37.5" height="8.4" fill="#d9d9ff"/>
<rect x="454.1" y="604.2" width="37.5" height="8.4" fill="#b5b5ff"/>
<rect x="491.3" y="604.2" width="37.5" height="8.4" fill="#aaaaff"/>
<rect x="528.5" y="604.2" width="37.5" height="8.4" fill="#9e9eff"/>
<rect x="193.7" y="612.3" width="37.5" height="8.4" fill="#8383ff"/>
<rect x="230.9" y="612.3" width="37.5" height="8.4" fill="#aaaaff"/>
<rect x="268.1" y="612.3" width="37.5" height="8.4" fill="#8383ff"/>
<rect x="305.3" y="612.3" width="37.5" height="8.4" fill="#aaaaff"/>
<rect x="342.5" y="612.3" width="37.5" height="8.4" fill="#9e9eff"/>
<rect x="379.7" y="612.3" width="37.5" height="8.4" fill="#9e9eff"/>
<rect x="416.9" y="612.3" width="37.5" height="8.4" fill="#b5b5ff"/>
<rect x="454.1" y="612.3" width="37.5" height="8.4" fill="#b5b5ff"/>
<rect x="491.3" y="612.3" width="37.5" height="8.4" fill="#c7c7ff"/>
<rect x="528.5" y="612.3" width="37.5" height="8.4" fill="#aaaaff"/>
<rect x="193.7" y="620.4" width="37.5" height="8.4" fill="#8383ff"/>
<rect x="230.9" y="620.4" width="37.5" height="8.4" fill="#9191ff"/>
<rect x="268.1" y="620.4" width="37.5" height="8.4" fill="#9e9eff"/>
<rect x="305.3" y="620.4" width="37.5" height="8.4" fill="#9e9eff"/>
<rect x="342.5" y="620.4" width="37.5" height="8.4" fill="#9191ff"/>
<rect x="379.7" y="620.4" width="37.5" height="8.4" fill="#9e9eff"/>
<rect x="416.9" y="620.4" width="37.5" height="8.4" fill="#b5b5ff"/>
<rect x="454.1" y="620.4" width="37.5" height="8.4" fill="#9e9eff"/>
<rect x="491.3" y="620.4" width="37.5" height="8.4" fill="#aaaaff"/>
<rect x="528.5" y="620.4" width="37.5" height="8.4" fill="#9e9eff"/>
<rect x="193.7" y="628.5" width="37.5" height="8.4" fill="#7676ff"/>
<rect x="230.9" y="628.5" width="37.5" height="8.4" fill="#9191ff"/>
<rect x="268.1" y="628.5" width="37.5" height="8.4" fill="#9e9eff"/>
<rect x="305.3" y="628.5" width="37.5" height="8.4" fill="#9e9eff"/>
<rect x="342.5" y="628.5" width="37.5" height="8.4" fill="#9191ff"/>
<rect x="379.7" y="628.5" width="37.5" height="8.4" fill="#9191ff"/>
<rect x="416.9" y="628.5" width="37.5" height="8.4" fill="#b5b5ff"/>
<rect x="454.1" y="628.5" width="37.5" height="8.4" fill="#9e9eff"/>
<rect x="491.3" y="628.5" width="37.5" height="8.4" fill="#9e9eff"/>
<rect x="528.5" y="628.5" width="37.5" height="8.4" fill="#9191ff"/>
<rect x="193.7" y="636.6" width="37.5" height="8.4" fill="#7676ff"/>
<rect x="230.9" y="636.6" width="37.5" height="8.4" fill="#8383ff"/>
<rect x="268.1" y="636.6" width="37.5" height="8.4" fill="#9191ff"/>
<rect x="305.3" y="636.6" width="37.5" height="8.4" fill="#9191ff"/>
<rect x="342.5" y="636.6" width="37.5" height="8.4" fill="#8383ff"/>
<rect x="379.7" y="636.6" width="37.5" height="8.4" fill="#9e9eff"/>
<rect x="416.9" y="636.6" width="37.5" height="8.4" fill="#d9d9ff"/>
<rect x="454.1" y="636.6" width="37.5" height="8.4" fill="#9e9eff"/>
<rect x="491.3" y="636.6" width="37.5" height="8.4" fill="#9191ff"/>
<rect x="528.5" y="636.6" width="37.5" height="8.4" fill="#9191ff"/>
<rect x="193.7" y="644.7" width="37.5" height="8.4" fill="#6868ff"/>
<rect x="230.9" y="644.7" width="37.5" height="8.4" fill="#9191ff"/>
<rect x="268.1" y="644.7" width="37.5" height="8.4" fill="#9e9eff"/>
<rect x="305.3" y="644.7" width="37.5" height="8.4" fill="#9e9eff"/>
<rect x="342.5" y="644.7" width="37.5" height="8.4" fill="#9191ff"/>
<rect x="379.7" y="644.7" width="37.5" height="8.4" fill="#9e9eff"/>
<rect x="416.9" y="644.7" width="37.5" height="8.4" fill="#bebeff"/>
<rect x="454.1" y="644.7" width="37.5" height="8.4" fill="#9e9eff"/>
<rect x="491.3" y="644.7" width="37.5" height="8.4" fill="#9191ff"/>
<rect x="528.5" y="644.7" width="37.5" height="8.4" fill="#8383ff"/>
<rect x="193.7" y="652.8" width="37.5" height="8.4" fill="#4b4bff"/>
<rect x="230.9" y="652.8" width="37.5" height="8.4" fill="#5b5bff"/>
<rect x="268.1" y="652.8" width="37.5" height="8.4" fill="#6868ff"/>
<rect x="305.3" y="652.8" width="37.5" height="8.4" fill="#7676ff"/>
<rect x="342.5" y="652.8" width="37.5" height="8.4" fill="#5b5bff"/>
<rect x="379.7" y="652.8" width="37.5" height="8.4" fill="#5b5bff"/>
<rect x="416.9" y="652.8" width="37.5" height="8.4" fill="#8383ff"/>
<rect x="454.1" y="652.8" width="37.5" height="8.4" fill="#7676ff"/>
<rect x="491.3" y="652.8" width="37.5" height="8.4" fill="#6868ff"/>
<rect x="528.5" y="652.8" width="37.5" height="8.4" fill="#6868ff"/>
<rect x="193.7" y="660.9" width="37.5" height="8.4" fill="#4040ff"/>
<rect x="230.9" y="660.9" width="37.5" height="8.4" fill="#5b5bff"/>
<rect x="268.1" y="660.9" width="37.5" height="8.4" fill="#6868ff"/>
<rect x="305.3" y="660.9" width="37.5" height="8.4" fill="#7676ff"/>
<rect x="342.5" y="660.9" width="37.5" height="8.4" fill="#4d4dff"/>
<rect x="379.7" y="660.9" width="37.5" height="8.4" fill="#5b5bff"/>
<rect x="416.9" y="660.9" width="37.5" height="8.4" fill="#8383ff"/>
<rect x="454.1" y="660.9" width="37.5" height="8.4" fill="#7676ff"/>
<rect x="491.3" y="660.9" width="37.5" height="8.4" fill="#5b5bff"/>
<rect x="528.5" y="660.9" width="37.5" height="8.4" fill="#4d4dff"/>
<rect x="193.7" y="669" width="37.5" height="8.4" fill="#4d4dff"/>
<rect x="230.9" y="669" width="37.5" height="8.4" fill="#6868ff"/>
<rect x="268.1" y="669" width="37.5" height="8.4" fill="#6868ff"/>
<rect x="305.3" y="669" width="37.5" height="8.4" fill="#7676ff"/>
<rect x="342.5" y="669" width="37.5" height="8.4" fill="#5b5bff"/>
<rect x="379.7" y="669" width="37.5" height="8.4" fill="#6868ff"/>
<rect x="416.9" y="669" width="37.5" height="8.4" fill="#9191ff"/>
<rect x="454.1" y="669" width="37.5" height="8.4" fill="#8383ff"/>
<rect x="491.3" y="669" width="37.5" height="8.4" fill="#7676ff"/>
<rect x="528.5" y="669" width="37.5" height="8.4" fill="#6868ff"/>
<rect x="193.7" y="677.1" width="37.5" height="8.4" fill="#1818ff"/>
<rect x="230.9" y="677.1" width="37.5" height="8.4" fill="#5b5bff"/>
<rect x="268.1" y="677.1" width="37.5" height="8.4" fill="#5b5bff"/>
<rect x="305.3" y="677.1" width="37.5" height="8.4" fill="#6868ff"/>
<rect x="342.5" y="677.1" width="37.5" height="8.4" fill="#4d4dff"/>
<rect x="379.7" y="677.1" width="37.5" height="8.4" fill="#5b5bff"/>
<rect x="416.9" y="677.1" width="37.5" height="8.4" fill="#b5b5ff"/>
<rect x="454.1" y="677.1" width="37.5" height="8.4" fill="#8383ff"/>
<rect x="491.3" y="677.1" width="37.5" height="8.4" fill="#7676ff"/>
<rect x="528.5" y="677.1" width="37.5" height="8.4" fill="#5b5bff"/>
<rect x="193.7" y="685.2" width="37.5" height="8.4" fill="#4d4dff"/>
<rect x="230.9" y="685.2" width="37.5" height="8.4" fill="#5b5bff"/>
<rect x="268.1" y="685.2" width="37.5" height="8.4" fill="#9191ff"/>
<rect x="305.3" y="685.2" width="37.5" height="8.4" fill="#7676ff"/>
<rect x="342.5" y="685.2" width="37.5" height="8.4" fill="#5b5bff"/>
<rect x="379.7" y="685.2" width="37.5" height="8.4" fill="#6868ff"/>
<rect x="416.9" y="685.2" width="37.5" height="8.4" fill="#8383ff"/>
<rect x="454.1" y="685.2" width="37.5" height="8.4" fill="#6868ff"/>
<rect x="491.3" y="685.2" width="37.5" height="8.4" fill="#3232ff"/>
<rect x="528.5" y="685.2" width="37.5" height="8.4" fill="#5b5bff"/>
<rect x="193.7" y="693.3" width="37.5" height="8.4" fill="#4040ff"/>
<rect x="230.9" y="693.3" width="37.5" height="8.4" fill="#5b5bff"/>
<rect x="268.1" y="693.3" width="37.5" height="8.4" fill="#6868ff"/>
<rect x="305.3" y="693.3" width="37.5" height="8.4" fill="#5b5bff"/>
<rect x="342.5" y="693.3" width="37.5" height="8.4" fill="#4d4dff"/>
<rect x="379.7" y="693.3" width="37.5" height="8.4" fill="#5b5bff"/>
<rect x="416.9" y="693.3" width="37.5" height="8.4" fill="#5b5bff"/>
<rect x="454.1" y="693.3" width="37.5" height="8.4" fill="#6868ff"/>
<rect x="491.3" y="693.3" width="37.5" height="8.4" fill="#5b5bff"/>
<rect x="528.5" y="693.3" width="37.5" height="8.4" fill="#5b5bff"/>
<rect x="193.7" y="701.4" width="37.5" height="8.4" fill="#5b5bff"/>
<rect x="230.9" y="701.4" width="37.5" height="8.4" fill="#6868ff"/>
<rect x="268.1" y="701.4" width="37.5" height="8.4" fill="#8383ff"/>
<rect x="305.3" y="701.4" width="37.5" height="8.4" fill="#9e9eff"/>
<rect x="342.5" y="701.4" width="37.5" height="8.4" fill="#6868ff"/>
<rect x="379.7" y="701.4" width="37.5" height="8.4" fill="#6868ff"/>
<rect x="416.9" y="701.4" width="37.5" height="8.4" fill="#9e9eff"/>
<rect x="454.1" y="701.4" width="37.5" height="8.4" fill="#8383ff"/>
<rect x="491.3" y="701.4" width="37.5" height="8.4" fill="#7676ff"/>
<rect x="528.5" y="701.4" width="37.5" height="8.4" fill="#6868ff"/>
<rect x="193.7" y="709.5" width="37.5" height="8.4" fill="#6868ff"/>
<rect x="230.9" y="709.5" width="37.5" height="8.4" fill="#7676ff"/>
<rect x="268.1" y="709.5" width="37.5" height="8.4" fill="#6868ff"/>
<rect x="305.3" y="709.5" width="37.5" height="8.4" fill="#9e9eff"/>
<rect x="342.5" y="709.5" width="37.5" height="8.4" fill="#7676ff"/>
<rect x="379.7" y="709.5" width="37.5" height="8.4" fill="#7676ff"/>
<rect x="416.9" y="709.5" width="37.5" height="8.4" fill="#aaaaff"/>
<rect x="454.1" y="709.5" width="37.5" height="8.4" fill="#9191ff"/>
<rect x="491.3" y="709.5" width="37.5" height="8.4" fill="#8383ff"/>
<rect x="528.5" y="709.5" width="37.5" height="8.4" fill="#7676ff"/>
<rect x="193.7" y="717.6" width="37.5" height="8.4" fill="#6868ff"/>
<rect x="230.9" y="717.6" width="37.5" height="8.4" fill="#8383ff"/>
<rect x="268.1" y="717.6" width="37.5" height="8.4" fill="#bebeff"/>
<rect x="305.3" y="717.6" width="37.5" height="8.4" fill="#aaaaff"/>
<rect x="342.5" y="717.6" width="37.5" height="8.4" fill="#7676ff"/>
<rect x="379.7" y="717.6" width="37.5" height="8.4" fill="#7676ff"/>
<rect x="416.9" y="717.6" width="37.5" height="8.4" fill="#aaaaff"/>
<rect x="454.1" y="717.6" width="37.5" height="8.4" fill="#8383ff"/>
<rect x="491.3" y="717.6" width="37.5" height="8.4" fill="#8383ff"/>
<rect x="528.5" y="717.6" width="37.5" height="8.4" fill="#7676ff"/>
<rect x="193.7" y="725.7" width="37.5" height="8.4" fill="#5b5bff"/>
<rect x="230.9" y="725.7" width="37.5" height="8.4" fill="#8383ff"/>
<rect x="268.1" y="725.7" width="37.5" height="8.4" fill="#d0d0ff"/>
<rect x="305.3" y="725.7" width="37.5" height="8.4" fill="#6868ff"/>
<rect x="342.5" y="725.7" width="37.5" height="8.4" fill="#6868ff"/>
<rect x="379.7" y="725.7" width="37.5" height="8.4" fill="#7676ff"/>
<rect x="416.9" y="725.7" width="37.5" height="8.4" fill="#9e9eff"/>
<rect x="454.1" y="725.7" width="37.5" height="8.4" fill="#8383ff"/>
<rect x="491.3" y="725.7" width="37.5" height="8.4" fill="#7676ff"/>
<rect x="528.5" y="725.7" width="37.5" height="8.4" fill="#7676ff"/>
<rect x="193.7" y="733.8" width="37.5" height="8.4" fill="#1616ff"/>
<rect x="230.9" y="733.8" width="37.5" height="8.4" fill="#2424ff"/>
<rect x="268.1" y="733.8" width="37.5" height="8.4" fill="#4040ff"/>
<rect x="305.3" y="733.8" width="37.5" height="8.4" fill="#6868ff"/>
<rect x="342.5" y="733.8" width="37.5" height="8.4" fill="#2424ff"/>
<rect x="379.7" y="733.8" width="37.5" height="8.4" fill="#3232ff"/>
<rect x="416.9" y="733.8" width="37.5" height="8.4" fill="#7676ff"/>
<rect x="454.1" y="733.8" width="37.5" height="8.4" fill="#4d4dff"/>
<rect x="491.3" y="733.8" width="37.5" height="8.4" fill="#3232ff"/>
<rect x="528.5" y="733.8" width="37.5" height="8.4" fill="#3232ff"/>
<rect x="193.7" y="741.9" width="37.5" height="8.4" fill="#1616ff"/>
<rect x="230.9" y="741.9" width="37.5" height="8.4" fill="#2424ff"/>
<rect x="268.1" y="741.9" width="37.5" height="8.4" fill="#4040ff"/>
<rect x="305.3" y="741.9" width="37.5" height="8.4" fill="#6868ff"/>
<rect x="342.5" y="741.9" width="37.5" height="8.4" fill="#2424ff"/>
<rect x="379.7" y="741.9" width="37.5" height="8.4" fill="#3232ff"/>
<rect x="416.9" y="741.9" width="37.5" height="8.4" fill="#7676ff"/>
<rect x="454.1" y="741.9" width="37.5" height="8.4" fill="#4d4dff"/>
<rect x="491.3" y="741.9" width="37.5" height="8.4" fill="#2424ff"/>
<rect x="528.5" y="741.9" width="37.5" height="8.4" fill="#3232ff"/>
<rect x="193.7" y="750" width="37.5" height="8.4" fill="#2424ff"/>
<rect x="230.9" y="750" width="37.5" height="8.4" fill="#3232ff"/>
<rect x="268.1" y="750" width="37.5" height="8.4" fill="#5b5bff"/>
<rect x="305.3" y="750" width="37.5" height="8.4" fill="#6868ff"/>
<rect x="342.5" y="750" width="37.5" height="8.4" fill="#3232ff"/>
<rect x="379.7" y="750" width="37.5" height="8.4" fill="#4040ff"/>
<rect x="416.9" y="750" width="37.5" height="8.4" fill="#7676ff"/>
<rect x="454.1" y="750" width="37.5" height="8.4" fill="#4d4dff"/>
<rect x="491.3" y="750" width="37.5" height="8.4" fill="#3232ff"/>
<rect x="528.5" y="750" width="37.5" height="8.4" fill="#4040ff"/>
<rect x="193.7" y="758.1" width="37.5" height="8.4" fill="#1616ff"/>
<rect x="230.9" y="758.1" width="37.5" height="8.4" fill="#2424ff"/>
<rect x="268.1" y="758.1" width="37.5" height="8.4" fill="#3232ff"/>
<rect x="305.3" y="758.1" width="37.5" height="8.4" fill="#5b5bff"/>
<rect x="342.5" y="758.1" width="37.5" height="8.4" fill="#1616ff"/>
<rect x="379.7" y="758.1" width="37.5" height="8.4" fill="#2424ff"/>
<rect x="416.9" y="758.1" width="37.5" height="8.4" fill="#5b5bff"/>
<rect x="454.1" y="758.1" width="37.5" height="8.4" fill="#3232ff"/>
<rect x="491.3" y="758.1" width="37.5" height="8.4" fill="#1616ff"/>
<rect x="528.5" y="758.1" width="37.5" height="8.4" fill="#2424ff"/>
<rect x="193.7" y="766.2" width="37.5" height="8.4" fill="#3232ff"/>
<rect x="230.9" y="766.2" width="37.5" height="8.4" fill="#4040ff"/>
<rect x="268.1" y="766.2" width="37.5" height="8.4" fill="#4d4dff"/>
<rect x="305.3" y="766.2" width="37.5" height="8.4" fill="#6868ff"/>
<rect x="342.5" y="766.2" width="37.5" height="8.4" fill="#4040ff"/>
<rect x="379.7" y="766.2" width="37.5" height="8.4" fill="#4040ff"/>
<rect x="416.9" y="766.2" width="37.5" height="8.4" fill="#9e9eff"/>
<rect x="454.1" y="766.2" width="37.5" height="8.4" fill="#4040ff"/>
<rect x="491.3" y="766.2" width="37.5" height="8.4" fill="#2424ff"/>
<rect x="528.5" y="766.2" width="37.5" height="8.4" fill="#4040ff"/>
<rect x="193.7" y="774.3" width="37.5" height="8.4" fill="#fbfbff"/>
<rect x="230.9" y="774.3" width="37.5" height="8.4" fill="#ffe6e6"/>
<rect x="268.1" y="774.3" width="37.5" height="8.4" fill="#ff8080"/>
<rect x="305.3" y="774.3" width="37.5" height="8.4" fill="#ffa3a3"/>
<rect x="342.5" y="774.3" width="37.5" height="8.4" fill="#fffcfc"/>
<rect x="379.7" y="774.3" width="37.5" height="8.4" fill="#fff3f3"/>
<rect x="416.9" y="774.3" width="37.5" height="8.4" fill="#ff9191"/>
<rect x="454.1" y="774.3" width="37.5" height="8.4" fill="#ffe6e6"/>
<rect x="491.3" y="774.3" width="37.5" height="8.4" fill="#ffcfcf"/>
<rect x="528.5" y="774.3" width="37.5" height="8.4" fill="#ffe6e6"/>
<rect x="193.7" y="782.4" width="37.5" height="8.4" fill="#fbfbff"/>
<rect x="230.9" y="782.4" width="37.5" height="8.4" fill="#ffe6e6"/>
<rect x="268.1" y="782.4" width="37.5" height="8.4" fill="#ff9191"/>
<rect x="305.3" y="782.4" width="37.5" height="8.4" fill="#ffb8b8"/>
<rect x="342.5" y="782.4" width="37.5" height="8.4" fill="#ffffff"/>
<rect x="379.7" y="782.4" width="37.5" height="8.4" fill="#fff6f6"/>
<rect x="416.9" y="782.4" width="37.5" height="8.4" fill="#ff8080"/>
<rect x="454.1" y="782.4" width="37.5" height="8.4" fill="#ffcfcf"/>
<rect x="491.3" y="782.4" width="37.5" height="8.4" fill="#ffe6e6"/>
<rect x="528.5" y="782.4" width="37.5" height="8.4" fill="#ffcfcf"/>
<rect x="193.7" y="790.5" width="37.5" height="8.4" fill="#fbfbff"/>
<rect x="230.9" y="790.5" width="37.5" height="8.4" fill="#ffcfcf"/>
<rect x="268.1" y="790.5" width="37.5" height="8.4" fill="#ffa3a3"/>
<rect x="305.3" y="790.5" width="37.5" height="8.4" fill="#ff9191"/>
<rect x="342.5" y="790.5" width="37.5" height="8.4" fill="#ffeeee"/>
<rect x="379.7" y="790.5" width="37.5" height="8.4" fill="#ffe6e6"/>
<rect x="416.9" y="790.5" width="37.5" height="8.4" fill="#ff6666"/>
<rect x="454.1" y="790.5" width="37.5" height="8.4" fill="#ffc3c3"/>
<rect x="491.3" y="790.5" width="37.5" height="8.4" fill="#ffcfcf"/>
<rect x="528.5" y="790.5" width="37.5" height="8.4" fill="#ffcfcf"/>
<rect x="193.7" y="798.6" width="37.5" height="8.4" fill="#ffffff"/>
<rect x="230.9" y="798.6" width="37.5" height="8.4" fill="#ffcfcf"/>
<rect x="268.1" y="798.6" width="37.5" height="8.4" fill="#ffa3a3"/>
<rect x="305.3" y="798.6" width="37.5" height="8.4" fill="#ffa3a3"/>
<rect x="342.5" y="798.6" width="37.5" height="8.4" fill="#fff3f3"/>
<rect x="379.7" y="798.6" width="37.5" height="8.4" fill="#ffe6e6"/>
<rect x="416.9" y="798.6" width="37.5" height="8.4" fill="#ffa3a3"/>
<rect x="454.1" y="798.6" width="37.5" height="8.4" fill="#ffc3c3"/>
<rect x="491.3" y="798.6" width="37.5" height="8.4" fill="#ffc3c3"/>
<rect x="528.5" y="798.6" width="37.5" height="8.4" fill="#ffe6e6"/>
<rect x="193.7" y="806.7" width="37.5" height="8.4" fill="#fafaff"/>
<rect x="230.9" y="806.7" width="37.5" height="8.4" fill="#ffe6e6"/>
<rect x="268.1" y="806.7" width="37.5" height="8.4" fill="#ffb8b8"/>
<rect x="305.3" y="806.7" width="37.5" height="8.4" fill="#ffc3c3"/>
<rect x="342.5" y="806.7" width="37.5" height="8.4" fill="#fff6f6"/>
<rect x="379.7" y="806.7" width="37.5" height="8.4" fill="#ffeeee"/>
<rect x="416.9" y="806.7" width="37.5" height="8.4" fill="#ffa3a3"/>
<rect x="454.1" y="806.7" width="37.5" height="8.4" fill="#ffe6e6"/>
<rect x="491.3" y="806.7" width="37.5" height="8.4" fill="#ffe6e6"/>
<rect x="528.5" y="806.7" width="37.5" height="8.4" fill="#ffe6e6"/>
<rect x="193.7" y="814.8" width="37.5" height="8.4" fill="#ffeeee"/>
<rect x="230.9" y="814.8" width="37.5" height="8.4" fill="#ffcfcf"/>
<rect x="268.1" y="814.8" width="37.5" height="8.4" fill="#ffb8b8"/>
<rect x="305.3" y="814.8" width="37.5" height="8.4" fill="#ff9191"/>
<rect x="342.5" y="814.8" width="37.5" height="8.4" fill="#ffe6e6"/>
<rect x="379.7" y="814.8" width="37.5" height="8.4" fill="#ffe6e6"/>
<rect x="416.9" y="814.8" width="37.5" height="8.4" fill="#ff8080"/>
<rect x="454.1" y="814.8" width="37.5" height="8.4" fill="#ffe6e6"/>
<rect x="491.3" y="814.8" width="37.5" height="8.4" fill="#ffcfcf"/>
<rect x="528.5" y="814.8" width="37.5" height="8.4" fill="#ffcfcf"/>
<rect x="193.7" y="822.9" width="37.5" height="8.4" fill="#ffeeee"/>
<rect x="230.9" y="822.9" width="37.5" height="8.4" fill="#ffcfcf"/>
<rect x="268.1" y="822.9" width="37.5" height="8.4" fill="#ffb8b8"/>
<rect x="305.3" y="822.9" width="37.5" height="8.4" fill="#ffb8b8"/>
<rect x="342.5" y="822.9" width="37.5" height="8.4" fill="#ffe6e6"/>
<rect x="379.7" y="822.9" width="37.5" height="8.4" fill="#ffeeee"/>
<rect x="416.9" y="822.9" width="37.5" height="8.4" fill="#ffa3a3"/>
<rect x="454.1" y="822.9" width="37.5" height="8.4" fill="#ffc3c3"/>
<rect x="491.3" y="822.9" width="37.5" height="8.4" fill="#ffcfcf"/>
<rect x="528.5" y="822.9" width="37.5" height="8.4" fill="#ffcfcf"/>
<rect x="193.7" y="831" width="37.5" height="8.4" fill="#ffeeee"/>
<rect x="230.9" y="831" width="37.5" height="8.4" fill="#ffc3c3"/>
<rect x="268.1" y="831" width="37.5" height="8.4" fill="#ffa3a3"/>
<rect x="305.3" y="831" width="37.5" height="8.4" fill="#ffa3a3"/>
<rect x="342.5" y="831" width="37.5" height="8.4" fill="#ffe6e6"/>
<rect x="379.7" y="831" width="37.5" height="8.4" fill="#ffe6e6"/>
<rect x="416.9" y="831" width="37.5" height="8.4" fill="#ffa3a3"/>
<rect x="454.1" y="831" width="37.5" height="8.4" fill="#ffb8b8"/>
<rect x="491.3" y="831" width="37.5" height="8.4" fill="#ffc3c3"/>
<rect x="528.5" y="831" width="37.5" height="8.4" fill="#ffb8b8"/>
<rect x="193.7" y="839.1" width="37.5" height="8.4" fill="#ffe6e6"/>
<rect x="230.9" y="839.1" width="37.5" height="8.4" fill="#ffc3c3"/>
<rect x="268.1" y="839.1" width="37.5" height="8.4" fill="#ffb8b8"/>
<rect x="305.3" y="839.1" width="37.5" height="8.4" fill="#ff6666"/>
<rect x="342.5" y="839.1" width="37.5" height="8.4" fill="#ffc3c3"/>
<rect x="379.7" y="839.1" width="37.5" height="8.4" fill="#ffcfcf"/>
<rect x="416.9" y="839.1" width="37.5" height="8.4" fill="#ff9191"/>
<rect x="454.1" y="839.1" width="37.5" height="8.4" fill="#ffcfcf"/>
<rect x="491.3" y="839.1" width="37.5" height="8.4" fill="#ffcfcf"/>
<rect x="528.5" y="839.1" width="37.5" height="8.4" fill="#ffcfcf"/>
<rect x="193.7" y="847.2" width="37.5" height="8.4" fill="#ffc3c3"/>
<rect x="230.9" y="847.2" width="37.5" height="8.4" fill="#ffc3c3"/>
<rect x="268.1" y="847.2" width="37.5" height="8.4" fill="#ff5959"/>
<rect x="305.3" y="847.2" width="37.5" height="8.4" fill="#ff8080"/>
<rect x="342.5" y="847.2" width="37.5" height="8.4" fill="#ffcfcf"/>
<rect x="379.7" y="847.2" width="37.5" height="8.4" fill="#ffe6e6"/>
<rect x="416.9" y="847.2" width="37.5" height="8.4" fill="#ff9191"/>
<rect x="454.1" y="847.2" width="37.5" height="8.4" fill="#ffe6e6"/>
<rect x="491.3" y="847.2" width="37.5" height="8.4" fill="#ffe6e6"/>
<rect x="528.5" y="847.2" width="37.5" height="8.4" fill="#ffc3c3"/>
<rect x="193.7" y="855.3" width="37.5" height="8.4" fill="#ffe6e6"/>
<rect x="230.9" y="855.3" width="37.5" height="8.4" fill="#ffcfcf"/>
<rect x="268.1" y="855.3" width="37.5" height="8.4" fill="#ff5959"/>
<rect x="305.3" y="855.3" width="37.5" height="8.4" fill="#ff9191"/>
<rect x="342.5" y="855.3" width="37.5" height="8.4" fill="#ffe6e6"/>
<rect x="379.7" y="855.3" width="37.5" height="8.4" fill="#ffe6e6"/>
<rect x="416.9" y="855.3" width="37.5" height="8.4" fill="#ffa3a3"/>
<rect x="454.1" y="855.3" width="37.5" height="8.4" fill="#ffcfcf"/>
<rect x="491.3" y="855.3" width="37.5" height="8.4" fill="#ffe6e6"/>
<rect x="528.5" y="855.3" width="37.5" height="8.4" fill="#ffe6e6"/>
<rect x="193.7" y="863.4" width="37.5" height="8.4" fill="#fff6f6"/>
<rect x="230.9" y="863.4" width="37.5" height="8.4" fill="#ffe6e6"/>
<rect x="268.1" y="863.4" width="37.5" height="8.4" fill="#ff6666"/>
<rect x="305.3" y="863.4" width="37.5" height="8.4" fill="#ffa3a3"/>
<rect x="342.5" y="863.4" width="37.5" height="8.4" fill="#fff6f6"/>
<rect x="379.7" y="863.4" width="37.5" height="8.4" fill="#ffeeee"/>
<rect x="416.9" y="863.4" width="37.5" height="8.4" fill="#ff9191"/>
<rect x="454.1" y="863.4" width="37.5" height="8.4" fill="#ffe6e6"/>
<rect x="491.3" y="863.4" width="37.5" height="8.4" fill="#fffafa"/>
<rect x="528.5" y="863.4" width="37.5" height="8.4" fill="#ffeeee"/>
<rect x="193.7" y="871.5" width="37.5" height="8.4" fill="#fafaff"/>
<rect x="230.9" y="871.5" width="37.5" height="8.4" fill="#fffafa"/>
<rect x="268.1" y="871.5" width="37.5" height="8.4" fill="#ffb8b8"/>
<rect x="305.3" y="871.5" width="37.5" height="8.4" fill="#ffcfcf"/>
<rect x="342.5" y="871.5" width="37.5" height="8.4" fill="#fbfbff"/>
<rect x="379.7" y="871.5" width="37.5" height="8.4" fill="#fffafa"/>
<rect x="416.9" y="871.5" width="37.5" height="8.4" fill="#ffa3a3"/>
<rect x="454.1" y="871.5" width="37.5" height="8.4" fill="#ffeeee"/>
<rect x="491.3" y="871.5" width="37.5" height="8.4" fill="#fffcfc"/>
<rect x="528.5" y="871.5" width="37.5" height="8.4" fill="#fffafa"/>
<rect x="193.7" y="879.6" width="37.5" height="8.4" fill="#c7c7ff"/>
<rect x="230.9" y="879.6" width="37.5" height="8.4" fill="#fffafa"/>
<rect x="268.1" y="879.6" width="37.5" height="8.4" fill="#ffb8b8"/>
<rect x="305.3" y="879.6" width="37.5" height="8.4" fill="#ffb8b8"/>
<rect x="342.5" y="879.6" width="37.5" height="8.4" fill="#fffafa"/>
<rect x="379.7" y="879.6" width="37.5" height="8.4" fill="#fffafa"/>
<rect x="416.9" y="879.6" width="37.5" height="8.4" fill="#ffa3a3"/>
<rect x="454.1" y="879.6" width="37.5" height="8.4" fill="#fff3f3"/>
<rect x="491.3" y="879.6" width="37.5" height="8.4" fill="#ffffff"/>
<rect x="528.5" y="879.6" width="37.5" height="8.4" fill="#fffcfc"/>
<rect x="193.7" y="887.7" width="37.5" height="8.4" fill="#e0e0ff"/>
<rect x="230.9" y="887.7" width="37.5" height="8.4" fill="#fffafa"/>
<rect x="268.1" y="887.7" width="37.5" height="8.4" fill="#ffb8b8"/>
<rect x="305.3" y="887.7" width="37.5" height="8.4" fill="#ffcfcf"/>
<rect x="342.5" y="887.7" width="37.5" height="8.4" fill="#ffffff"/>
<rect x="379.7" y="887.7" width="37.5" height="8.4" fill="#fffafa"/>
<rect x="416.9" y="887.7" width="37.5" height="8.4" fill="#ffb8b8"/>
<rect x="454.1" y="887.7" width="37.5" height="8.4" fill="#ffe6e6"/>
<rect x="491.3" y="887.7" width="37.5" height="8.4" fill="#fff3f3"/>
<rect x="528.5" y="887.7" width="37.5" height="8.4" fill="#fbfbff"/>
<rect x="193.7" y="895.8" width="37.5" height="8.4" fill="#c7c7ff"/>
<rect x="230.9" y="895.8" width="37.5" height="8.4" fill="#fffcfc"/>
<rect x="268.1" y="895.8" width="37.5" height="8.4" fill="#ffc3c3"/>
<rect x="305.3" y="895.8" width="37.5" height="8.4" fill="#ffcfcf"/>
<rect x="342.5" y="895.8" width="37.5" height="8.4" fill="#fbfbff"/>
<rect x="379.7" y="895.8" width="37.5" height="8.4" fill="#fafaff"/>
<rect x="416.9" y="895.8" width="37.5" height="8.4" fill="#ffb8b8"/>
<rect x="454.1" y="895.8" width="37.5" height="8.4" fill="#fff3f3"/>
<rect x="491.3" y="895.8" width="37.5" height="8.4" fill="#ffffff"/>
<rect x="528.5" y="895.8" width="37.5" height="8.4" fill="#fbfbff"/>
<rect x="193.7" y="903.9" width="37.5" height="8.4" fill="#ededff"/>
<rect x="230.9" y="903.9" width="37.5" height="8.4" fill="#ffe6e6"/>
<rect x="268.1" y="903.9" width="37.5" height="8.4" fill="#ffe6e6"/>
<rect x="305.3" y="903.9" width="37.5" height="8.4" fill="#ffcfcf"/>
<rect x="342.5" y="903.9" width="37.5" height="8.4" fill="#ffeeee"/>
<rect x="379.7" y="903.9" width="37.5" height="8.4" fill="#ffeeee"/>
<rect x="416.9" y="903.9" width="37.5" height="8.4" fill="#ffa3a3"/>
<rect x="454.1" y="903.9" width="37.5" height="8.4" fill="#ffe6e6"/>
<rect x="491.3" y="903.9" width="37.5" height="8.4" fill="#ffc3c3"/>
<rect x="528.5" y="903.9" width="37.5" height="8.4" fill="#ffcfcf"/>
<rect x="193.7" y="912" width="37.5" height="8.4" fill="#ededff"/>
<rect x="230.9" y="912" width="37.5" height="8.4" fill="#fff6f6"/>
<rect x="268.1" y="912" width="37.5" height="8.4" fill="#ffe6e6"/>
<rect x="305.3" y="912" width="37.5" height="8.4" fill="#ffcfcf"/>
<rect x="342.5" y="912" width="37.5" height="8.4" fill="#fff6f6"/>
<rect x="379.7" y="912" width="37.5" height="8.4" fill="#fff6f6"/>
<rect x="416.9" y="912" width="37.5" height="8.4" fill="#ffcfcf"/>
<rect x="454.1" y="912" width="37.5" height="8.4" fill="#fff3f3"/>
<rect x="491.3" y="912" width="37.5" height="8.4" fill="#fff3f3"/>
<rect x="528.5" y="912" width="37.5" height="8.4" fill="#fff3f3"/>
<rect x="193.7" y="920.1" width="37.5" height="8.4" fill="#ffeeee"/>
<rect x="230.9" y="920.1" width="37.5" height="8.4" fill="#ffe6e6"/>
<rect x="268.1" y="920.1" width="37.5" height="8.4" fill="#ffb8b8"/>
<rect x="305.3" y="920.1" width="37.5" height="8.4" fill="#ffb8b8"/>
<rect x="342.5" y="920.1" width="37.5" height="8.4" fill="#ffe6e6"/>
<rect x="379.7" y="920.1" width="37.5" height="8.4" fill="#ffeeee"/>
<rect x="416.9" y="920.1" width="37.5" height="8.4" fill="#ffa3a3"/>
<rect x="454.1" y="920.1" width="37.5" height="8.4" fill="#ffcfcf"/>
<rect x="491.3" y="920.1" width="37.5" height="8.4" fill="#ffeeee"/>
<rect x="528.5" y="920.1" width="37.5" height="8.4" fill="#fff3f3"/>
<rect x="193.7" y="928.2" width="37.5" height="8.4" fill="#fffafa"/>
<rect x="230.9" y="928.2" width="37.5" height="8.4" fill="#ffeeee"/>
<rect x="268.1" y="928.2" width="37.5" height="8.4" fill="#ff9191"/>
<rect x="305.3" y="928.2" width="37.5" height="8.4" fill="#ffa3a3"/>
<rect x="342.5" y="928.2" width="37.5" height="8.4" fill="#fff6f6"/>
<rect x="379.7" y="928.2" width="37.5" height="8.4" fill="#ffe6e6"/>
<rect x="416.9" y="928.2" width="37.5" height="8.4" fill="#ffa3a3"/>
<rect x="454.1" y="928.2" width="37.5" height="8.4" fill="#ffe6e6"/>
<rect x="491.3" y="928.2" width="37.5" height="8.4" fill="#ffeeee"/>
<rect x="528.5" y="928.2" width="37.5" height="8.4" fill="#fff3f3"/>
<rect x="193.7" y="936.3" width="37.5" height="8.4" fill="#fffafa"/>
<rect x="230.9" y="936.3" width="37.5" height="8.4" fill="#fff3f3"/>
<rect x="268.1" y="936.3" width="37.5" height="8.4" fill="#ffa3a3"/>
<rect x="305.3" y="936.3" width="37.5" height="8.4" fill="#ffa3a3"/>
<rect x="342.5" y="936.3" width="37.5" height="8.4" fill="#ffcfcf"/>
<rect x="379.7" y="936.3" width="37.5" height="8.4" fill="#ffe6e6"/>
<rect x="416.9" y="936.3" width="37.5" height="8.4" fill="#ffa3a3"/>
<rect x="454.1" y="936.3" width="37.5" height="8.4" fill="#ffe6e6"/>
<rect x="491.3" y="936.3" width="37.5" height="8.4" fill="#fafaff"/>
<rect x="528.5" y="936.3" width="37.5" height="8.4" fill="#ededff"/>
<rect x="193.7" y="944.4" width="37.5" height="8.4" fill="#ededff"/>
<rect x="230.9" y="944.4" width="37.5" height="8.4" fill="#fffafa"/>
<rect x="268.1" y="944.4" width="37.5" height="8.4" fill="#ffa3a3"/>
<rect x="305.3" y="944.4" width="37.5" height="8.4" fill="#ff9191"/>
<rect x="342.5" y="944.4" width="37.5" height="8.4" fill="#fffafa"/>
<rect x="379.7" y="944.4" width="37.5" height="8.4" fill="#fff3f3"/>
<rect x="416.9" y="944.4" width="37.5" height="8.4" fill="#ff9191"/>
<rect x="454.1" y="944.4" width="37.5" height="8.4" fill="#ffeeee"/>
<rect x="491.3" y="944.4" width="37.5" height="8.4" fill="#e0e0ff"/>
<rect x="528.5" y="944.4" width="37.5" height="8.4" fill="#ededff"/>
<rect x="193.7" y="952.5" width="37.5" height="8.4" fill="#d4d4ff"/>
<rect x="230.9" y="952.5" width="37.5" height="8.4" fill="#fafaff"/>
<rect x="268.1" y="952.5" width="37.5" height="8.4" fill="#ff8080"/>
<rect x="305.3" y="952.5" width="37.5" height="8.4" fill="#ffa3a3"/>
<rect x="342.5" y="952.5" width="37.5" height="8.4" fill="#f6f6ff"/>
<rect x="379.7" y="952.5" width="37.5" height="8.4" fill="#fff3f3"/>
<rect x="416.9" y="952.5" width="37.5" height="8.4" fill="#ffa3a3"/>
<rect x="454.1" y="952.5" width="37.5" height="8.4" fill="#ffeeee"/>
<rect x="491.3" y="952.5" width="37.5" height="8.4" fill="#fafaff"/>
<rect x="528.5" y="952.5" width="37.5" height="8.4" fill="#ffffff"/>
<rect x="193.7" y="960.6" width="37.5" height="8.4" fill="#d4d4ff"/>
<rect x="230.9" y="960.6" width="37.5" height="8.4" fill="#f6f6ff"/>
<rect x="268.1" y="960.6" width="37.5" height="8.4" fill="#ff9191"/>
<rect x="305.3" y="960.6" width="37.5" height="8.4" fill="#ffb8b8"/>
<rect x="342.5" y="960.6" width="37.5" height="8.4" fill="#f3f3ff"/>
<rect x="379.7" y="960.6" width="37.5" height="8.4" fill="#fffafa"/>
<rect x="416.9" y="960.6" width="37.5" height="8.4" fill="#ffc3c3"/>
<rect x="454.1" y="960.6" width="37.5" height="8.4" fill="#fffafa"/>
<rect x="491.3" y="960.6" width="37.5" height="8.4" fill="#e0e0ff"/>
<rect x="528.5" y="960.6" width="37.5" height="8.4" fill="#dbdbff"/>
<rect x="193.7" y="968.7" width="37.5" height="8.4" fill="#ffb8b8"/>
<rect x="230.9" y="968.7" width="37.5" height="8.4" fill="#ffa3a3"/>
<rect x="268.1" y="968.7" width="37.5" height="8.4" fill="#ff7373"/>
<rect x="305.3" y="968.7" width="37.5" height="8.4" fill="#ffa3a3"/>
<rect x="342.5" y="968.7" width="37.5" height="8.4" fill="#ffb8b8"/>
<rect x="379.7" y="968.7" width="37.5" height="8.4" fill="#ffa3a3"/>
<rect x="416.9" y="968.7" width="37.5" height="8.4" fill="#ff6666"/>
<rect x="454.1" y="968.7" width="37.5" height="8.4" fill="#ff9191"/>
<rect x="491.3" y="968.7" width="37.5" height="8.4" fill="#ff9191"/>
<rect x="528.5" y="968.7" width="37.5" height="8.4" fill="#ff8080"/>
<rect x="193.7" y="976.8" width="37.5" height="8.4" fill="#ffb8b8"/>
<rect x="230.9" y="976.8" width="37.5" height="8.4" fill="#ffa3a3"/>
<rect x="268.1" y="976.8" width="37.5" height="8.4" fill="#ff7373"/>
<rect x="305.3" y="976.8" width="37.5" height="8.4" fill="#ff8080"/>
<rect x="342.5" y="976.8" width="37.5" height="8.4" fill="#ffa3a3"/>
<rect x="379.7" y="976.8" width="37.5" height="8.4" fill="#ffa3a3"/>
<rect x="416.9" y="976.8" width="37.5" height="8.4" fill="#ff7373"/>
<rect x="454.1" y="976.8" width="37.5" height="8.4" fill="#ffa3a3"/>
<rect x="491.3" y="976.8" width="37.5" height="8.4" fill="#ffa3a3"/>
<rect x="528.5" y="976.8" width="37.5" height="8.4" fill="#ff9191"/>
<rect x="193.7" y="984.9" width="37.5" height="8.4" fill="#ff9191"/>
<rect x="230.9" y="984.9" width="37.5" height="8.4" fill="#ff8080"/>
<rect x="268.1" y="984.9" width="37.5" height="8.4" fill="#ff7373"/>
<rect x="305.3" y="984.9" width="37.5" height="8.4" fill="#ff6666"/>
<rect x="342.5" y="984.9" width="37.5" height="8.4" fill="#ff8080"/>
<rect x="379.7" y="984.9" width="37.5" height="8.4" fill="#ff9191"/>
<rect x="416.9" y="984.9" width="37.5" height="8.4" fill="#ff6666"/>
<rect x="454.1" y="984.9" width="37.5" height="8.4" fill="#ff9191"/>
<rect x="491.3" y="984.9" width="37.5" height="8.4" fill="#ff9191"/>
<rect x="528.5" y="984.9" width="37.5" height="8.4" fill="#ff8080"/>
<rect x="193.7" y="993" width="37.5" height="8.4" fill="#ff8080"/>
<rect x="230.9" y="993" width="37.5" height="8.4" fill="#ff8080"/>
<rect x="268.1" y="993" width="37.5" height="8.4" fill="#ff6666"/>
<rect x="305.3" y="993" width="37.5" height="8.4" fill="#ff4f4f"/>
<rect x="342.5" y="993" width="37.5" height="8.4" fill="#ff7373"/>
<rect x="379.7" y="993" width="37.5" height="8.4" fill="#ff9191"/>
<rect x="416.9" y="993" width="37.5" height="8.4" fill="#ff7373"/>
<rect x="454.1" y="993" width="37.5" height="8.4" fill="#ffa3a3"/>
<rect x="491.3" y="993" width="37.5" height="8.4" fill="#ff9191"/>
<rect x="528.5" y="993" width="37.5" height="8.4" fill="#ffa3a3"/>
<rect x="193.7" y="1001.1" width="37.5" height="8.4" fill="#ff6666"/>
<rect x="230.9" y="1001.1" width="37.5" height="8.4" fill="#ff7373"/>
<rect x="268.1" y="1001.1" width="37.5" height="8.4" fill="#ff6666"/>
<rect x="305.3" y="1001.1" width="37.5" height="8.4" fill="#ff5959"/>
<rect x="342.5" y="1001.1" width="37.5" height="8.4" fill="#ff6666"/>
<rect x="379.7" y="1001.1" width="37.5" height="8.4" fill="#ff6666"/>
<rect x="416.9" y="1001.1" width="37.5" height="8.4" fill="#ff6666"/>
<rect x="454.1" y="1001.1" width="37.5" height="8.4" fill="#ff6666"/>
<rect x="491.3" y="1001.1" width="37.5" height="8.4" fill="#ff6666"/>
<rect x="528.5" y="1001.1" width="37.5" height="8.4" fill="#ff6666"/>
<rect x="193.7" y="1009.2" width="37.5" height="8.4" fill="#ff9191"/>
<rect x="230.9" y="1009.2" width="37.5" height="8.4" fill="#ff8080"/>
<rect x="268.1" y="1009.2" width="37.5" height="8.4" fill="#ff4f4f"/>
<rect x="305.3" y="1009.2" width="37.5" height="8.4" fill="#ff6666"/>
<rect x="342.5" y="1009.2" width="37.5" height="8.4" fill="#ff8080"/>
<rect x="379.7" y="1009.2" width="37.5" height="8.4" fill="#ff8080"/>
<rect x="416.9" y="1009.2" width="37.5" height="8.4" fill="#ff6666"/>
<rect x="454.1" y="1009.2" width="37.5" height="8.4" fill="#ff9191"/>
<rect x="491.3" y="1009.2" width="37.5" height="8.4" fill="#ff8080"/>
<rect x="528.5" y="1009.2" width="37.5" height="8.4" fill="#ff7373"/>
<rect x="193.7" y="1017.3" width="37.5" height="8.4" fill="#ffb8b8"/>
<rect x="230.9" y="1017.3" width="37.5" height="8.4" fill="#ffa3a3"/>
<rect x="268.1" y="1017.3" width="37.5" height="8.4" fill="#ff8080"/>
<rect x="305.3" y="1017.3" width="37.5" height="8.4" fill="#ff7373"/>
<rect x="342.5" y="1017.3" width="37.5" height="8.4" fill="#ffa3a3"/>
<rect x="379.7" y="1017.3" width="37.5" height="8.4" fill="#ffb8b8"/>
<rect x="416.9" y="1017.3" width="37.5" height="8.4" fill="#ff7373"/>
<rect x="454.1" y="1017.3" width="37.5" height="8.4" fill="#ff9191"/>
<rect x="491.3" y="1017.3" width="37.5" height="8.4" fill="#ff9191"/>
<rect x="528.5" y="1017.3" width="37.5" height="8.4" fill="#ff8080"/>
<rect x="193.7" y="1025.4" width="37.5" height="8.4" fill="#ffc3c3"/>
<rect x="230.9" y="1025.4" width="37.5" height="8.4" fill="#ffb8b8"/>
<rect x="268.1" y="1025.4" width="37.5" height="8.4" fill="#ff8080"/>
<rect x="305.3" y="1025.4" width="37.5" height="8.4" fill="#ff8080"/>
<rect x="342.5" y="1025.4" width="37.5" height="8.4" fill="#ffb8b8"/>
<rect x="379.7" y="1025.4" width="37.5" height="8.4" fill="#ffc3c3"/>
<rect x="416.9" y="1025.4" width="37.5" height="8.4" fill="#ff9191"/>
<rect x="454.1" y="1025.4" width="37.5" height="8.4" fill="#ffb8b8"/>
<rect x="491.3" y="1025.4" width="37.5" height="8.4" fill="#ffa3a3"/>
<rect x="528.5" y="1025.4" width="37.5" height="8.4" fill="#ffa3a3"/>
<rect x="193.7" y="1033.5" width="37.5" height="8.4" fill="#ff3b3b"/>
<rect x="230.9" y="1033.5" width="37.5" height="8.4" fill="#ff3b3b"/>
<rect x="268.1" y="1033.5" width="37.5" height="8.4" fill="#ff3b3b"/>
<rect x="305.3" y="1033.5" width="37.5" height="8.4" fill="#ff3b3b"/>
<rect x="342.5" y="1033.5" width="37.5" height="8.4" fill="#ff3b3b"/>
<rect x="379.7" y="1033.5" width="37.5" height="8.4" fill="#ff3b3b"/>
<rect x="416.9" y="1033.5" width="37.5" height="8.4" fill="#ff3030"/>
<rect x="454.1" y="1033.5" width="37.5" height="8.4" fill="#ff3030"/>
<rect x="491.3" y="1033.5" width="37.5" height="8.4" fill="#ff3030"/>
<rect x="528.5" y="1033.5" width="37.5" height="8.4" fill="#ff3030"/>
<rect x="193.7" y="1041.6" width="37.5" height="8.4" fill="#ff6b6b"/>
<rect x="230.9" y="1041.6" width="37.5" height="8.4" fill="#ff6161"/>
<rect x="268.1" y="1041.6" width="37.5" height="8.4" fill="#ff6161"/>
<rect x="305.3" y="1041.6" width="37.5" height="8.4" fill="#ff6161"/>
<rect x="342.5" y="1041.6" width="37.5" height="8.4" fill="#ff6161"/>
<rect x="379.7" y="1041.6" width="37.5" height="8.4" fill="#ff6161"/>
<rect x="416.9" y="1041.6" width="37.5" height="8.4" fill="#ff5353"/>
<rect x="454.1" y="1041.6" width="37.5" height="8.4" fill="#ff5959"/>
<rect x="491.3" y="1041.6" width="37.5" height="8.4" fill="#ff6161"/>
<rect x="528.5" y="1041.6" width="37.5" height="8.4" fill="#ff5959"/>
<rect x="193.7" y="1049.7" width="37.5" height="8.4" fill="#ff1212"/>
<rect x="230.9" y="1049.7" width="37.5" height="8.4" fill="#ff1212"/>
<rect x="268.1" y="1049.7" width="37.5" height="8.4" fill="#ff1c1c"/>
<rect x="305.3" y="1049.7" width="37.5" height="8.4" fill="#ff1212"/>
<rect x="342.5" y="1049.7" width="37.5" height="8.4" fill="#ff1212"/>
<rect x="379.7" y="1049.7" width="37.5" height="8.4" fill="#ff1212"/>
<rect x="416.9" y="1049.7" width="37.5" height="8.4" fill="#ff1212"/>
<rect x="454.1" y="1049.7" width="37.5" height="8.4" fill="#ff1212"/>
<rect x="491.3" y="1049.7" width="37.5" height="8.4" fill="#ff1212"/>
<rect x="528.5" y="1049.7" width="37.5" height="8.4" fill="#ff0808"/>
</g>
<path d="M193.7 167H565.7M193.7 175.1H565.7M193.7 183.2H565.7M193.7 191.3H565.7M193.7 199.4H565.7M193.7 207.5H565.7M193.7 215.6H565.7M193.7 223.7H565.7M193.7 231.8H565.7M193.7 239.9H565.7M193.7 248H565.7M193.7 256.1H565.7M193.7 264.2H565.7M193.7 272.3H565.7M193.7 280.4H565.7M193.7 288.5H565.7M193.7 296.6H565.7M193.7 304.7H565.7M193.7 312.8H565.7M193.7 320.9H565.7M193.7 329H565.7M193.7 337.1H565.7M193.7 345.2H565.7M193.7 353.3H565.7M193.7 361.4H565.7M193.7 369.5H565.7M193.7 377.6H565.7M193.7 385.7H565.7M193.7 393.8H565.7M193.7 401.9H565.7M193.7 410H565.7M193.7 418.1H565.7M193.7 426.2H565.7M193.7 434.3H565.7M193.7 442.4H565.7M193.7 450.5H565.7M193.7 458.6H565.7M193.7 466.7H565.7M193.7 474.8H565.7M193.7 482.9H565.7M193.7 491H565.7M193.7 499.1H565.7M193.7 507.2H565.7M193.7 515.3H565.7M193.7 523.4H565.7M193.7 531.5H565.7M193.7 539.6H565.7M193.7 547.7H565.7M193.7 555.8H565.7M193.7 563.9H565.7M193.7 572H565.7M193.7 580.1H565.7M193.7 588.2H565.7M193.7 596.3H565.7M193.7 604.4H565.7M193.7 612.5H565.7M193.7 620.6H565.7M193.7 628.7H565.7M193.7 636.8H565.7M193.7 644.9H565.7M193.7 653H565.7M193.7 661.1H565.7M193.7 669.2H565.7M193.7 677.3H565.7M193.7 685.4H565.7M193.7 693.5H565.7M193.7 701.6H565.7M193.7 709.7H565.7M193.7 717.8H565.7M193.7 725.9H565.7M193.7 734H565.7M193.7 742.1H565.7M193.7 750.2H565.7M193.7 758.3H565.7M193.7 766.4H565.7M193.7 774.5H565.7M193.7 782.6H565.7M193.7 790.7H565.7M193.7 798.8H565.7M193.7 806.9H565.7M193.7 815H565.7M193.7 823.1H565.7M193.7 831.2H565.7M193.7 839.3H565.7M193.7 847.4H565.7M193.7 855.5H565.7M193.7 863.6H565.7M193.7 871.7H565.7M193.7 879.8H565.7M193.7 887.9H565.7M193.7 896H565.7M193.7 904.1H565.7M193.7 912.2H565.7M193.7 920.3H565.7M193.7 928.4H565.7M193.7 936.5H565.7M193.7 944.6H565.7M193.7 952.7H565.7M193.7 960.8H565.7M193.7 968.9H565.7M193.7 977H565.7M193.7 985.1H565.7M193.7 993.2H565.7M193.7 1001.3H565.7M193.7 1009.4H565.7M193.7 1017.5H565.7M193.7 1025.6H565.7M193.7 1033.7H565.7M193.7 1041.8H565.7M193.7 1049.9H565.7" stroke="#fff" stroke-width="1.1" fill="none"/>
<path d="M231.5 158.2V1058.3M268.7 158.2V1058.3M305.9 158.2V1058.3M343.1 158.2V1058.3M380.3 158.2V1058.3M417.5 158.2V1058.3M454.7 158.2V1058.3M491.9 158.2V1058.3M529.1 158.2V1058.3" stroke="#fff" stroke-width="1.2" fill="none"/>
<path d="M212.3 158.7V1057.8M249.5 158.7V1057.8M286.7 158.7V1057.8M323.9 158.7V1057.8M361.1 158.7V1057.8M398.3 158.7V1057.8M435.5 158.7V1057.8M472.7 158.7V1057.8M509.9 158.7V1057.8M547.1 158.7V1057.8" stroke="#00ffff" stroke-width="0.8" stroke-dasharray="3.2 3.7" fill="none"/>
<path d="M207.28 158.7V166.8H209.14V174.9H205.79V183H206.53V191.1H208.21V199.2H208.21V207.3H207.28V215.4H211V223.5H209.14V231.6H209.14V239.7H208.21V247.8H207.28V255.9H205.79V264H206.53V272.1H207.28V280.2H207.28V288.3H207.28V296.4H206.53V304.5H209.14V312.6H207.28V320.7H208.21V328.8H210.07V336.9H207.28V345H211.65V353.1H211.65V361.2H205.23V369.3H206.07V377.4H205.23V385.5H206.07V393.6H207.56V401.7H207.56V409.8H208.21V417.9H208.21V426H206.07V434.1H207.56V442.2H207.56V450.3H206.07V458.4H206.07V466.5H206.07V474.6H208.21V482.7H206.91V490.8H206.07V498.9H206.07V507H205.23V515.1H206.07V523.2H203.27V531.3H206.91V539.4H206.07V547.5H202.28V555.6H203.27V563.7H204.25V571.8H204.25V579.9H205.23V588H205.23V596.1H205.23V604.2H205.23V612.3H203.27V620.4H203.27V628.5H202.28V636.6H202.28V644.7H201.3V652.8H199.14V660.9H198.35V669H199.33V677.1H195.49V685.2H199.33V693.3H198.35V701.4H200.32V709.5H201.3V717.6H201.3V725.7H200.32V733.8H195.28V741.9H195.28V750H196.3V758.1H195.28V766.2H197.33V774.3H212.04V782.4H212.04V790.5H212.04V798.6H212.3V806.7H211.91V814.8H213.54V822.9H213.54V831H213.54V839.1H214.16V847.2H216.67V855.3H214.16V863.4H212.92V871.5H211.91V879.6H208.21V887.7H210.07V895.8H208.21V903.9H211V912H211V920.1H213.54V928.2H212.67V936.3H212.67V944.4H211V952.5H209.14V960.6H209.14V968.7H217.51V976.8H217.51V984.9H220.3V993H221.6V1001.1H223.46V1009.2H220.3V1017.3H217.51V1025.4H216.67V1033.5H226.62V1041.6H223.09V1049.7H229.6V1057.8M246.34 158.7V166.8H247.27V174.9H247.27V183H248.85V191.1H249.11V199.2H248.85V207.3H249.11V215.4H248.85V223.5H248.2V231.6H248.85V239.7H246.34V247.8H247.27V255.9H246.34V264H244.48V272.1H247.27V280.2H248.2V288.3H247.27V296.4H245.41V304.5H248.2V312.6H248.2V320.7H245.41V328.8H246.34V336.9H245.41V345H249.83V353.1H249.83V361.2H244.11V369.3H244.76V377.4H244.76V385.5H245.41V393.6H244.11V401.7H244.76V409.8H246.71V417.9H246.06V426H245.41V434.1H244.76V442.2H245.41V450.3H244.76V458.4H244.76V466.5H244.76V474.6H245.41V482.7H244.76V490.8H244.76V498.9H244.76V507H244.76V515.1H245.41V523.2H244.11V531.3H244.76V539.4H244.76V547.5H244.11V555.6H242.43V563.7H243.27V571.8H243.27V579.9H244.11V588H243.27V596.1H243.27V604.2H244.11V612.3H243.27V620.4H241.45V628.5H241.45V636.6H240.47V644.7H241.45V652.8H237.52V660.9H237.52V669H238.5V677.1H237.52V685.2H237.52V693.3H237.52V701.4H238.5V709.5H239.48V717.6H240.47V725.7H240.47V733.8H233.5V741.9H233.5V750H234.53V758.1H233.5V766.2H235.55V774.3H251.36V782.4H251.36V790.5H253.03V798.6H253.03V806.7H251.36V814.8H253.03V822.9H253.03V831H253.87V839.1H253.87V847.2H253.87V855.3H253.03V863.4H251.36V871.5H249.87V879.6H249.87V887.7H249.87V895.8H249.75V903.9H251.36V912H250.12V920.1H251.36V928.2H250.74V936.3H250.37V944.4H249.87V952.5H249.11V960.6H248.85V968.7H256.2V976.8H256.2V984.9H258.8V993H258.8V1001.1H259.73V1009.2H258.8V1017.3H256.2V1025.4H254.71V1033.5H263.82V1041.6H261.03V1049.7H266.8V1057.8M287.82 158.7V166.8H286.7V174.9H286.7V183H286.7V191.1H289.86V199.2H289.86V207.3H287.26V215.4H291.72V223.5H291.72V231.6H290.79V239.7H289.86V247.8H289.86V255.9H289.18V264H294.7V272.1H288.5V280.2H289.86V288.3H288.5V296.4H290.79V304.5H287.26V312.6H287.03V320.7H287.82V328.8H280.93V336.9H284.47V345H287.26V353.1H286.7V361.2H286.7V369.3H286.7V377.4H288.5V385.5H288.5V393.6H287.03V401.7H285.4V409.8H288.5V417.9H285.77V426H283.26V434.1H285.77V442.2H287.26V450.3H285.77V458.4H285.77V466.5H285.77V474.6H283.91V482.7H283.91V490.8H282.61V498.9H283.26V507H283.26V515.1H283.26V523.2H282.61V531.3H285.4V539.4H284.84V547.5H284.84V555.6H283.26V563.7H283.91V571.8H283.91V579.9H285.77V588H281.31V596.1H281.31V604.2H281.31V612.3H277.67V620.4H279.63V628.5H279.63V636.6H278.65V644.7H279.63V652.8H275.7V660.9H275.7V669H275.7V677.1H274.72V685.2H278.65V693.3H275.7V701.4H277.67V709.5H275.7V717.6H281.96V725.7H283.26V733.8H272.75V741.9H272.75V750H274.72V758.1H271.73V766.2H273.73V774.3H296V782.4H294.7V790.5H293.4V798.6H293.4V806.7H291.91V814.8H291.91V822.9H291.91V831H293.4V839.1H291.91V847.2H298.79V855.3H298.79V863.4H297.86V871.5H291.91V879.6H291.91V887.7H291.91V895.8H291.07V903.9H288.56V912H288.56V920.1H291.91V928.2H294.7V936.3H293.4V944.4H293.4V952.5H296V960.6H294.7V968.7H296.93V976.8H296.93V984.9H296.93V993H297.86V1001.1H297.86V1009.2H299.53V1017.3H296V1025.4H296V1033.5H301.02V1041.6H298.23V1049.7H303.25V1057.8M325.7 158.7V166.8H325.02V174.9H326.38V183H323.9V191.1H325.7V199.2H325.02V207.3H327.99V215.4H327.99V223.5H327.99V231.6H328.92V239.7H327.06V247.8H325.7V255.9H325.7V264H325.7V272.1H325.7V280.2H325.7V288.3H325.02V296.4H327.06V304.5H325.02V312.6H325.02V320.7H323.9V328.8H323.9V336.9H322.6V345H324.68V353.1H326.38V361.2H323.9V369.3H323.9V377.4H322.6V385.5H325.02V393.6H325.7V401.7H324.46V409.8H328.92V417.9H327.99V426H328.92V434.1H322.04V442.2H323.34V450.3H322.97V458.4H322.97V466.5H323.34V474.6H320.46V482.7H322.04V490.8H323.9V498.9H322.97V507H320.46V515.1H319.81V523.2H319.81V531.3H320.46V539.4H320.46V547.5H320.46V555.6H319.81V563.7H319.81V571.8H320.46V579.9H322.97V588H319.16V596.1H318.51V604.2H318.51V612.3H317.67V620.4H316.83V628.5H316.83V636.6H315.85V644.7H316.83V652.8H313.88V660.9H313.88V669H313.88V677.1H312.9V685.2H313.88V693.3H311.92V701.4H316.83V709.5H316.83V717.6H317.67V725.7H312.9V733.8H312.9V741.9H312.9V750H312.9V758.1H311.92V766.2H312.9V774.3H330.6V782.4H329.11V790.5H331.9V798.6H330.6V806.7H328.27V814.8H331.9V822.9H329.11V831H330.6V839.1H335.06V847.2H333.2V855.3H331.9V863.4H330.6V871.5H327.43V879.6H329.11V887.7H327.43V895.8H327.43V903.9H327.43V912H327.43V920.1H329.11V928.2H330.6V936.3H330.6V944.4H331.9V952.5H330.6V960.6H329.11V968.7H330.6V976.8H333.2V984.9H335.06V993H336.73V1001.1H335.99V1009.2H335.06V1017.3H334.13V1025.4H333.2V1033.5H338.22V1041.6H335.43V1049.7H341.2V1057.8M357.01 158.7V166.8H358.87V174.9H356.08V183H357.01V191.1H359.8V199.2H360.45V207.3H357.94V215.4H360.45V223.5H358.87V231.6H358.87V239.7H357.94V247.8H357.01V255.9H356.08V264H356.08V272.1H360.45V280.2H357.94V288.3H357.94V296.4H357.01V304.5H359.8V312.6H358.87V320.7H357.01V328.8H357.01V336.9H356.08V345H360.71V353.1H363.58V361.2H354.87V369.3H355.71V377.4H355.71V385.5H356.36V393.6H357.01V401.7H357.01V409.8H358.31V417.9H357.66V426H355.71V434.1H357.01V442.2H357.01V450.3H355.71V458.4H355.71V466.5H356.36V474.6H357.66V482.7H357.01V490.8H355.71V498.9H354.87V507H355.71V515.1H355.71V523.2H354.87V531.3H356.36V539.4H355.71V547.5H354.03V555.6H353.05V563.7H354.03V571.8H354.03V579.9H354.87V588H354.87V596.1H354.87V604.2H354.87V612.3H354.03V620.4H353.05V628.5H353.05V636.6H352.07V644.7H353.05V652.8H349.12V660.9H348.13V669H349.12V677.1H348.13V685.2H349.12V693.3H348.13V701.4H350.1V709.5H351.08V717.6H351.08V725.7H350.1V733.8H345.1V741.9H345.1V750H346.13V758.1H344.08V766.2H347.15V774.3H361.35V782.4H361.1V790.5H362.34V798.6H361.97V806.7H361.72V814.8H362.96V822.9H362.96V831H362.96V839.1H365.47V847.2H364.63V855.3H362.96V863.4H361.72V871.5H360.84V879.6H361.47V887.7H361.1V895.8H360.84V903.9H362.34V912H361.72V920.1H362.96V928.2H361.72V936.3H364.63V944.4H361.47V952.5H360.45V960.6H360.19V968.7H366.31V976.8H367.8V984.9H370.4V993H371.33V1001.1H372.26V1009.2H370.4V1017.3H367.8V1025.4H366.31V1033.5H375.42V1041.6H372.63V1049.7H378.4V1057.8M397 158.7V166.8H395.14V174.9H396.07V183H396.07V191.1H398.3V199.2H397.39V207.3H397.39V215.4H397V223.5H396.07V231.6H398.3V239.7H396.07V247.8H396.07V255.9H395.14V264H396.07V272.1H397.65V280.2H396.07V288.3H395.14V296.4H394.21V304.5H398.3V312.6H397.65V320.7H395.14V328.8H396.07V336.9H395.14V345H400.1V353.1H399.08V361.2H393.56V369.3H393.56V377.4H393.56V385.5H394.86V393.6H394.21V401.7H394.21V409.8H396.44V417.9H394.86V426H392.07V434.1H394.86V442.2H394.21V450.3H393.56V458.4H393.56V466.5H393.56V474.6H394.21V482.7H393.56V490.8H393.56V498.9H392.91V507H393.56V515.1H393.56V523.2H392.91V531.3H393.56V539.4H392.91V547.5H392.07V555.6H392.07V563.7H392.07V571.8H391.23V579.9H392.07V588H392.07V596.1H392.07V604.2H392.07V612.3H391.23V620.4H391.23V628.5H390.25V636.6H391.23V644.7H391.23V652.8H386.32V660.9H386.32V669H387.3V677.1H386.32V685.2H387.3V693.3H386.32V701.4H387.3V709.5H388.28V717.6H388.28V725.7H388.28V733.8H383.33V741.9H383.33V750H384.35V758.1H382.3V766.2H384.35V774.3H399.17V782.4H398.92V790.5H400.16V798.6H400.16V806.7H399.54V814.8H400.16V822.9H399.54V831H400.16V839.1H401.83V847.2H400.16V855.3H400.16V863.4H399.54V871.5H398.67V879.6H398.67V887.7H398.67V895.8H397.91V903.9H399.54V912H398.92V920.1H399.54V928.2H400.16V936.3H400.16V944.4H399.17V952.5H399.17V960.6H398.67V968.7H405V976.8H405V984.9H406.3V993H406.3V1001.1H409.46V1009.2H407.6V1017.3H403.51V1025.4H402.67V1033.5H412.62V1041.6H409.83V1049.7H415.6V1057.8M438.66 158.7V166.8H437.98V174.9H440.52V183H437.3V191.1H438.66V199.2H438.66V207.3H437.98V215.4H439.59V223.5H442.01V231.6H443.5V239.7H439.59V247.8H439.59V255.9H439.59V264H439.59V272.1H439.59V280.2H440.52V288.3H437.98V296.4H438.66V304.5H437.98V312.6H437.98V320.7H437.3V328.8H436.06V336.9H435.5V345H438.66V353.1H437.3V361.2H437.98V369.3H438.66V377.4H437.98V385.5H438.66V393.6H437.3V401.7H437.3V409.8H442.01V417.9H440.52V426H439.59V434.1H435.83V442.2H436.06V450.3H436.06V458.4H435.5V466.5H432.06V474.6H435.5V482.7H435.5V490.8H439.59V498.9H437.98V507H432.71V515.1H431.41V523.2H431.41V531.3H431.41V539.4H433.64V547.5H433.64V555.6H431.41V563.7H435.83V571.8H436.06V579.9H436.28V588H430.76V596.1H431.41V604.2H432.71V612.3H430.11V620.4H430.11V628.5H430.11V636.6H432.71V644.7H430.76V652.8H426.47V660.9H426.47V669H427.45V677.1H430.11V685.2H426.47V693.3H423.52V701.4H428.43V709.5H429.27V717.6H429.27V725.7H428.43V733.8H425.48V741.9H425.48V750H425.48V758.1H423.52V766.2H428.43V774.3H443.5V782.4H444.8V790.5H446.66V798.6H442.2V806.7H442.2V814.8H444.8V822.9H442.2V831H442.2V839.1H443.5V847.2H443.5V855.3H442.2V863.4H443.5V871.5H442.2V879.6H442.2V887.7H440.71V895.8H440.71V903.9H442.2V912H439.03V920.1H442.2V928.2H442.2V936.3H442.2V944.4H443.5V952.5H442.2V960.6H439.87V968.7H446.66V976.8H445.73V984.9H446.66V993H445.73V1001.1H446.66V1009.2H446.66V1017.3H445.73V1025.4H443.5V1033.5H450.57V1041.6H448.04V1049.7H452.8V1057.8M471.79 158.7V166.8H471.79V174.9H472.7V183H473.48V191.1H473.26V199.2H472.7V207.3H471.79V215.4H473.48V223.5H473.26V231.6H475.18V239.7H472.05V247.8H472.05V255.9H471.4V264H472.05V272.1H472.7V280.2H471.4V288.3H471.4V296.4H469.54V304.5H472.7V312.6H472.05V320.7H469.54V328.8H471.4V336.9H471.79V345H475.86V353.1H473.26V361.2H468.61V369.3H469.26V377.4H469.26V385.5H469.26V393.6H471.4V401.7H469.26V409.8H471.4V417.9H469.91V426H467.96V434.1H470.84V442.2H469.26V450.3H469.91V458.4H469.26V466.5H468.61V474.6H467.96V482.7H467.31V490.8H470.84V498.9H469.26V507H468.61V515.1H468.61V523.2H467.96V531.3H468.61V539.4H467.96V547.5H467.96V555.6H467.31V563.7H467.31V571.8H467.31V579.9H467.96V588H467.31V596.1H467.96V604.2H467.31V612.3H467.31V620.4H465.63V628.5H465.63V636.6H465.63V644.7H465.63V652.8H462.68V660.9H462.68V669H463.67V677.1H463.67V685.2H461.7V693.3H461.7V701.4H463.67V709.5H464.65V717.6H463.67V725.7H463.67V733.8H459.73V741.9H459.73V750H459.73V758.1H457.73V766.2H458.75V774.3H474.56V782.4H476.23V790.5H477.07V798.6H477.07V806.7H474.56V814.8H474.56V822.9H477.07V831H477.91V839.1H476.23V847.2H474.56V855.3H476.23V863.4H474.56V871.5H473.94V879.6H473.57V887.7H474.56V895.8H473.57V903.9H474.56V912H473.57V920.1H476.23V928.2H474.56V936.3H474.56V944.4H473.94V952.5H473.94V960.6H473.07V968.7H480.7V976.8H479.4V984.9H480.7V993H479.4V1001.1H483.86V1009.2H480.7V1017.3H480.7V1025.4H477.91V1033.5H487.77V1041.6H484.79V1049.7H490V1057.8M506.74 158.7V166.8H507.67V174.9H507.67V183H509.9V191.1H510.68V199.2H509.51V207.3H509.9V215.4H508.6V223.5H505.81V231.6H509.25V239.7H507.67V247.8H507.67V255.9H506.74V264H506.74V272.1H507.67V280.2H506.74V288.3H506.74V296.4H504.13V304.5H508.99V312.6H508.99V320.7H506.74V328.8H507.67V336.9H506.74V345H511.7V353.1H509.9V361.2H504.51V369.3H505.16V377.4H505.16V385.5H503.67V393.6H505.16V401.7H505.81V409.8H506.46V417.9H505.16V426H501.85V434.1H508.6V442.2H505.81V450.3H505.16V458.4H505.16V466.5H505.16V474.6H505.81V482.7H501.85V490.8H504.51V498.9H504.51V507H505.16V515.1H505.16V523.2H504.51V531.3H505.16V539.4H503.67V547.5H503.67V555.6H502.83V563.7H501.85V571.8H501.85V579.9H500.87V588H503.67V596.1H503.67V604.2H503.67V612.3H505.81V620.4H503.67V628.5H502.83V636.6H501.85V644.7H501.85V652.8H498.9V660.9H497.92V669H499.88V677.1H499.88V685.2H494.93V693.3H497.92V701.4H499.88V709.5H500.87V717.6H500.87V725.7H499.88V733.8H494.93V741.9H493.9V750H494.93V758.1H492.88V766.2H493.9V774.3H513.43V782.4H511.76V790.5H513.43V798.6H514.27V806.7H511.76V814.8H513.43V822.9H513.43V831H514.27V839.1H513.43V847.2H511.76V855.3H511.76V863.4H510.27V871.5H510.15V879.6H509.9V887.7H510.77V895.8H509.9V903.9H514.27V912H510.77V920.1H511.14V928.2H511.14V936.3H509.51V944.4H507.67V952.5H509.51V960.6H507.67V968.7H517.9V976.8H516.6V984.9H517.9V993H517.9V1001.1H521.06V1009.2H519.2V1017.3H517.9V1025.4H516.6V1033.5H524.97V1041.6H521.43V1049.7H527.2V1057.8M545.8 158.7V166.8H546.19V174.9H544.87V183H546.19V191.1H547.1V199.2H546.19V207.3H546.19V215.4H546.19V223.5H543.94V231.6H546.45V239.7H544.87V247.8H543.94V255.9H543.94V264H543.94V272.1H545.8V280.2H543.94V288.3H543.94V296.4H543.01V304.5H546.45V312.6H546.19V320.7H543.94V328.8H544.87V336.9H543.94V345H548.22V353.1H547.1V361.2H541.71V369.3H542.36V377.4H542.36V385.5H543.01V393.6H543.01V401.7H543.01V409.8H544.31V417.9H543.66V426H541.71V434.1H543.66V442.2H543.01V450.3H543.01V458.4H542.36V466.5H542.36V474.6H543.01V482.7H543.01V490.8H542.36V498.9H542.36V507H541.71V515.1H542.36V523.2H540.03V531.3H542.36V539.4H541.71V547.5H541.71V555.6H540.03V563.7H540.87V571.8H540.87V579.9H540.87V588H540.87V596.1H540.87V604.2H540.03V612.3H540.87V620.4H540.03V628.5H539.05V636.6H539.05V644.7H538.07V652.8H536.1V660.9H534.13V669H536.1V677.1H535.12V685.2H535.12V693.3H535.12V701.4H536.1V709.5H537.08V717.6H537.08V725.7H537.08V733.8H532.13V741.9H532.13V750H533.15V758.1H531.1V766.2H533.15V774.3H548.96V782.4H550.63V790.5H550.63V798.6H548.96V806.7H548.96V814.8H550.63V822.9H550.63V831H552.31V839.1H550.63V847.2H551.47V855.3H548.96V863.4H548.34V871.5H547.47V879.6H547.35V887.7H546.84V895.8H546.84V903.9H550.63V912H547.97V920.1H547.97V928.2H547.97V936.3H545.8V944.4H545.8V952.5H547.1V960.6H544.5V968.7H556.4V976.8H555.1V984.9H556.4V993H553.8V1001.1H558.26V1009.2H557.33V1017.3H556.4V1025.4H553.8V1033.5H562.17V1041.6H559.19V1049.7H565.14V1057.8" stroke="#00f0ff" stroke-width="0.95" fill="none" stroke-linejoin="round"/>
<g font-size="6.9" fill="#000">
<text x="572.8" y="165.55">PAS_chr4_0669</text>
<text x="572.8" y="173.65">PAS_FragD_0014</text>
<text x="572.8" y="181.75">PAS_chr4_0211</text>
<text x="572.8" y="189.85" textLength="58.11" lengthAdjust="spacing">PAS_chr1-4_0235</text>
<text x="572.8" y="197.95">PAS_FragB_0036</text>
<text x="572.8" y="206.05" textLength="58.11" lengthAdjust="spacing">PAS_chr1-4_0239</text>
<text x="572.8" y="214.15">PAS_chr3_1200</text>
<text x="572.8" y="222.25" textLength="58.11" lengthAdjust="spacing">PAS_chr1-4_0352</text>
<text x="572.8" y="230.35" textLength="58.11" lengthAdjust="spacing">PAS_chr1-4_0680</text>
<text x="572.8" y="238.45" textLength="58.11" lengthAdjust="spacing">PAS_chr1-4_0491</text>
<text x="572.8" y="246.55" textLength="58.11" lengthAdjust="spacing">PAS_chr2-1_0086</text>
<text x="572.8" y="254.65">PAS_chr3_1057</text>
<text x="572.8" y="262.75" textLength="58.11" lengthAdjust="spacing">PAS_chr2-1_0481</text>
<text x="572.8" y="270.85">PAS_chr3_0054</text>
<text x="572.8" y="278.95" textLength="58.11" lengthAdjust="spacing">PAS_chr2-1_0658</text>
<text x="572.8" y="287.05" textLength="58.11" lengthAdjust="spacing">PAS_chr2-1_0087</text>
<text x="572.8" y="295.15" textLength="58.11" lengthAdjust="spacing">PAS_chr1-1_0382</text>
<text x="572.8" y="303.25">PAS_chr4_0456</text>
<text x="572.8" y="311.35">PAS_chr3_0335</text>
<text x="572.8" y="319.45" textLength="58.11" lengthAdjust="spacing">PAS_chr2-1_0728</text>
<text x="572.8" y="327.55">PAS_chr4_0131</text>
<text x="572.8" y="335.65" textLength="58.11" lengthAdjust="spacing">PAS_chr1-1_0283</text>
<text x="572.8" y="343.75">PAS_c131_0014</text>
<text x="572.8" y="351.85">PAS_chr3_1120</text>
<text x="572.8" y="359.95">PAS_chr4_0041</text>
<text x="572.8" y="368.05">PAS_chr3_0596</text>
<text x="572.8" y="376.15" textLength="58.11" lengthAdjust="spacing">PAS_chr2-1_0584</text>
<text x="572.8" y="384.25" textLength="58.11" lengthAdjust="spacing">PAS_chr1-4_0353</text>
<text x="572.8" y="392.35" textLength="58.11" lengthAdjust="spacing">PAS_chr1-1_0216</text>
<text x="572.8" y="400.45">PAS_chr4_0414</text>
<text x="572.8" y="408.55">PAS_chr4_0292</text>
<text x="572.8" y="416.65" textLength="58.11" lengthAdjust="spacing">PAS_chr1-4_0471</text>
<text x="572.8" y="424.75" textLength="58.11" lengthAdjust="spacing">PAS_chr1-3_0115</text>
<text x="572.8" y="432.85" textLength="58.11" lengthAdjust="spacing">PAS_chr2-1_0482</text>
<text x="572.8" y="440.95" textLength="58.11" lengthAdjust="spacing">PAS_chr2-1_0384</text>
<text x="572.8" y="449.05" textLength="58.11" lengthAdjust="spacing">PAS_chr2-2_0229</text>
<text x="572.8" y="457.15" textLength="58.11" lengthAdjust="spacing">PAS_chr1-4_0504</text>
<text x="572.8" y="465.25">PAS_chr4_0374</text>
<text x="572.8" y="473.35">PAS_chr3_0038</text>
<text x="572.8" y="481.45" textLength="58.11" lengthAdjust="spacing">PAS_chr1-1_0337</text>
<text x="572.8" y="489.55" textLength="58.11" lengthAdjust="spacing">PAS_chr1-4_0412</text>
<text x="572.8" y="497.65" textLength="58.11" lengthAdjust="spacing">PAS_chr2-1_0634</text>
<text x="572.8" y="505.75">PAS_chr3_0194</text>
<text x="572.8" y="513.85" textLength="58.11" lengthAdjust="spacing">PAS_chr1-1_0100</text>
<text x="572.8" y="521.95" textLength="58.11" lengthAdjust="spacing">PAS_chr1-1_0298</text>
<text x="572.8" y="530.05" textLength="58.11" lengthAdjust="spacing">PAS_chr1-1_0098</text>
<text x="572.8" y="538.15">PAS_c131_0005</text>
<text x="572.8" y="546.25">PAS_FragD_0013</text>
<text x="572.8" y="554.35" textLength="58.11" lengthAdjust="spacing">PAS_chr2-1_0483</text>
<text x="572.8" y="562.45">PAS_chr3_0946</text>
<text x="572.8" y="570.55" textLength="58.11" lengthAdjust="spacing">PAS_chr2-2_0257</text>
<text x="572.8" y="578.65">PAS_chr4_0267</text>
<text x="572.8" y="586.75">PAS_chr4_0094</text>
<text x="572.8" y="594.85">PAS_chr4_0905</text>
<text x="572.8" y="602.95" textLength="58.11" lengthAdjust="spacing">PAS_chr2-2_0241</text>
<text x="572.8" y="611.05" textLength="58.11" lengthAdjust="spacing">PAS_chr2-2_0240</text>
<text x="572.8" y="619.15" textLength="58.11" lengthAdjust="spacing">PAS_chr1-4_0320</text>
<text x="572.8" y="627.25" textLength="58.11" lengthAdjust="spacing">PAS_chr2-2_0417</text>
<text x="572.8" y="635.35" textLength="58.11" lengthAdjust="spacing">PAS_chr1-1_0076</text>
<text x="572.8" y="643.45" textLength="58.11" lengthAdjust="spacing">PAS_chr1-4_0358</text>
<text x="572.8" y="651.55">PAS_FragB_0037</text>
<text x="572.8" y="659.65">PAS_chr3_1101</text>
<text x="572.8" y="667.75" textLength="58.11" lengthAdjust="spacing">PAS_chr1-3_0107</text>
<text x="572.8" y="675.85">PAS_chr3_0520</text>
<text x="572.8" y="683.95">PAS_chr4_0813</text>
<text x="572.8" y="692.05" textLength="58.11" lengthAdjust="spacing">PAS_chr2-2_0066</text>
<text x="572.8" y="700.15">PAS_chr3_0473</text>
<text x="572.8" y="708.25" textLength="58.11" lengthAdjust="spacing">PAS_chr2-1_0890</text>
<text x="572.8" y="716.35">PAS_chr4_0845</text>
<text x="572.8" y="724.45" textLength="58.11" lengthAdjust="spacing">PAS_chr2-2_0412</text>
<text x="572.8" y="732.55" textLength="58.11" lengthAdjust="spacing">PAS_chr1-1_0144</text>
<text x="572.8" y="740.65">PAS_chr4_0956</text>
<text x="572.8" y="748.75" textLength="58.11" lengthAdjust="spacing">PAS_chr2-1_0683</text>
<text x="572.8" y="756.85" textLength="58.11" lengthAdjust="spacing">PAS_chr2-1_0126</text>
<text x="572.8" y="764.95">PAS_chr4_0799</text>
<text x="572.8" y="773.05">PAS_chr3_1174</text>
<text x="572.8" y="781.15" textLength="58.11" lengthAdjust="spacing">PAS_chr2-2_0326</text>
<text x="572.8" y="789.25" textLength="58.11" lengthAdjust="spacing">PAS_chr1-4_0275</text>
<text x="572.8" y="797.35">PAS_chr4_0348</text>
<text x="572.8" y="805.45" textLength="58.11" lengthAdjust="spacing">PAS_chr1-1_0439</text>
<text x="572.8" y="813.55" textLength="58.11" lengthAdjust="spacing">PAS_chr2-1_0362</text>
<text x="572.8" y="821.65">PAS_chr4_0206</text>
<text x="572.8" y="829.75">PAS_chr4_0982</text>
<text x="572.8" y="837.85" textLength="58.11" lengthAdjust="spacing">PAS_chr1-3_0300</text>
<text x="572.8" y="845.95" textLength="58.11" lengthAdjust="spacing">PAS_chr1-1_0345</text>
<text x="572.8" y="854.05" textLength="58.11" lengthAdjust="spacing">PAS_chr2-1_0022</text>
<text x="572.8" y="862.15" textLength="58.11" lengthAdjust="spacing">PAS_chr2-1_0779</text>
<text x="572.8" y="870.25">PAS_chr4_0413</text>
<text x="572.8" y="878.35" textLength="58.11" lengthAdjust="spacing">PAS_chr1-1_0189</text>
<text x="572.8" y="886.45" textLength="58.11" lengthAdjust="spacing">PAS_chr1-4_0422</text>
<text x="572.8" y="894.55">PAS_chr4_0614</text>
<text x="572.8" y="902.65">PAS_chr4_0180</text>
<text x="572.8" y="910.75" textLength="58.11" lengthAdjust="spacing">PAS_chr2-1_0783</text>
<text x="572.8" y="918.85" textLength="58.11" lengthAdjust="spacing">PAS_chr2-2_0109</text>
<text x="572.8" y="926.95" textLength="58.11" lengthAdjust="spacing">PAS_chr1-1_0236</text>
<text x="572.8" y="935.05">PAS_chr4_0246</text>
<text x="572.8" y="943.15">PAS_chr4_0107</text>
<text x="572.8" y="951.25" textLength="58.11" lengthAdjust="spacing">PAS_chr1-3_0066</text>
<text x="572.8" y="959.35">PAS_chr4_0524</text>
<text x="572.8" y="967.45">PAS_chr4_0139</text>
<text x="572.8" y="975.55" textLength="58.11" lengthAdjust="spacing">PAS_chr2-1_0486</text>
<text x="572.8" y="983.65">PAS_chr3_0722</text>
<text x="572.8" y="991.75">PAS_chr3_0762</text>
<text x="572.8" y="999.85" textLength="58.11" lengthAdjust="spacing">PAS_chr1-3_0034</text>
<text x="572.8" y="1007.95">PAS_chr3_0091</text>
<text x="572.8" y="1016.05" textLength="58.11" lengthAdjust="spacing">PAS_chr1-1_0183</text>
<text x="572.8" y="1024.15">PAS_c131_0011</text>
<text x="572.8" y="1032.25" textLength="58.11" lengthAdjust="spacing">PAS_chr1-1_0302</text>
<text x="572.8" y="1040.35">PAS_chr4_0412</text>
<text x="572.8" y="1048.45" textLength="58.11" lengthAdjust="spacing">PAS_chr1-4_0589</text>
<text x="572.8" y="1056.55" textLength="58.11" lengthAdjust="spacing">PAS_chr2-2_0054</text>
</g>
<g font-size="10.4" fill="#000" text-anchor="end">
<text transform="translate(215.9 1064.5) rotate(-90)" x="0" y="0">Wildtype</text>
<text transform="translate(253.1 1064.5) rotate(-90)" x="0" y="0">CV5</text>
<text transform="translate(290.3 1064.5) rotate(-90)" x="0" y="0">CV7</text>
<text transform="translate(327.5 1064.5) rotate(-90)" x="0" y="0">CV14</text>
<text transform="translate(364.7 1064.5) rotate(-90)" x="0" y="0">CV8</text>
<text transform="translate(401.9 1064.5) rotate(-90)" x="0" y="0">CV15</text>
<text transform="translate(439.1 1064.5) rotate(-90)" x="0" y="0">CV16</text>
<text transform="translate(476.3 1064.5) rotate(-90)" x="0" y="0">CV2</text>
<text transform="translate(513.5 1064.5) rotate(-90)" x="0" y="0">CV18</text>
<text transform="translate(550.7 1064.5) rotate(-90)" x="0" y="0">CV23</text>
</g>
<path d="M186.8 162.5H181.5V170.5H186.8M181.5 166.5H180.5V178.5H186.8M180.5 172.5H177.5V187.5H186.8M186.8 195.5H181.5V203.5H186.8M181.5 199.5H178.5V211.5H186.8M177.5 179.5H174.5V205.5H178.5M186.8 219.5H179.5V227.5H186.8M179.5 223.5H176.5V235.5H186.8M174.5 192.5H170.5V229.5H176.5M186.8 243.5H182.5V251.5H186.8M182.5 247.5H179.5V259.5H186.8M179.5 253.5H178.5V268.5H186.8M186.8 276.5H181.5V284.5H186.8M181.5 280.5H181.5V292.5H186.8M181.5 286.5H177.5V300.5H186.8M178.5 260.5H175.5V293.5H177.5M170.5 211.5H169.5V277.5H175.5M186.8 308.5H183.5V316.5H186.8M183.5 312.5H180.5V324.5H186.8M186.8 332.5H180.5V340.5H186.8M180.5 318.5H176.5V336.5H180.5M186.8 349.5H176.5V357.5H186.8M176.5 327.5H171.5V353.5H176.5M169.5 244.5H164.5V340.5H171.5M186.8 365.5H182.5V373.5H186.8M182.5 369.5H180.5V381.5H186.8M180.5 375.5H179.5V389.5H186.8M186.8 397.5H180.5V405.5H186.8M179.5 382.5H177.5V401.5H180.5M186.8 413.5H179.5V421.5H186.8M177.5 392.5H170.5V417.5H179.5M170.5 404.5H168.5V430.5H186.8M186.8 438.5H180.5V446.5H186.8M186.8 454.5H182.5V462.5H186.8M180.5 442.5H179.5V458.5H182.5M179.5 450.5H177.5V470.5H186.8M186.8 478.5H176.5V486.5H186.8M186.8 494.5H180.5V502.5H186.8M176.5 482.5H172.5V498.5H180.5M177.5 460.5H171.5V490.5H172.5M168.5 417.5H163.5V475.5H171.5M164.5 292.5H152.5V446.5H163.5M186.8 511.5H181.5V519.5H186.8M181.5 515.5H179.5V527.5H186.8M186.8 535.5H179.5V543.5H186.8M179.5 521.5H174.5V539.5H179.5M186.8 551.5H175.5V559.5H186.8M174.5 530.5H170.5V555.5H175.5M186.8 567.5H178.5V575.5H186.8M178.5 571.5H177.5V583.5H186.8M170.5 542.5H165.5V577.5H177.5M186.8 592.5H181.5V600.5H186.8M181.5 596.5H181.5V608.5H186.8M181.5 602.5H175.5V616.5H186.8M186.8 624.5H183.5V632.5H186.8M183.5 628.5H179.5V640.5H186.8M179.5 634.5H178.5V648.5H186.8M175.5 609.5H171.5V641.5H178.5M165.5 560.5H160.5V625.5H171.5M152.5 369.5H132.5V592.5H160.5M186.8 656.5H180.5V664.5H186.8M180.5 660.5H179.5V673.5H186.8M179.5 666.5H175.5V681.5H186.8M186.8 689.5H177.5V697.5H186.8M175.5 674.5H172.5V693.5H177.5M186.8 705.5H181.5V713.5H186.8M172.5 683.5H170.5V709.5H181.5M186.8 721.5H175.5V729.5H186.8M170.5 696.5H168.5V725.5H175.5M186.8 737.5H179.5V745.5H186.8M179.5 741.5H178.5V754.5H186.8M178.5 747.5H172.5V762.5H186.8M172.5 755.5H170.5V770.5H186.8M168.5 711.5H149.5V762.5H170.5M132.5 481.5H92.5V736.5H149.5M186.8 778.5H181.5V786.5H186.8M181.5 782.5H179.5V794.5H186.8M186.8 802.5H180.5V810.5H186.8M179.5 788.5H176.5V806.5H180.5M186.8 818.5H180.5V826.5H186.8M180.5 822.5H179.5V835.5H186.8M179.5 828.5H174.5V843.5H186.8M176.5 797.5H170.5V836.5H174.5M186.8 851.5H176.5V859.5H186.8M176.5 855.5H174.5V867.5H186.8M170.5 816.5H168.5V861.5H174.5M186.8 875.5H179.5V883.5H186.8M186.8 891.5H181.5V899.5H186.8M179.5 879.5H179.5V895.5H181.5M186.8 907.5H179.5V916.5H186.8M179.5 912.5H177.5V924.5H186.8M179.5 887.5H174.5V918.5H177.5M186.8 932.5H180.5V940.5H186.8M180.5 936.5H179.5V948.5H186.8M179.5 942.5H177.5V956.5H186.8M177.5 949.5H175.5V964.5H186.8M174.5 902.5H168.5V957.5H175.5M168.5 839.5H159.5V929.5H168.5M186.8 972.5H181.5V980.5H186.8M181.5 976.5H179.5V988.5H186.8M179.5 982.5H176.5V997.5H186.8M186.8 1005.5H176.5V1013.5H186.8M176.5 989.5H172.5V1009.5H176.5M186.8 1021.5H177.5V1029.5H186.8M172.5 999.5H164.5V1025.5H177.5M159.5 884.5H134.5V1012.5H164.5M186.8 1037.5H172.5V1045.5H186.8M172.5 1041.5H153.5V1053.5H186.8M134.5 948.5H92.5V1047.5H153.5M92.5 609.5H0.5V998.5H92.5" stroke="#000" stroke-width="1.25" fill="none" stroke-linejoin="miter"/>
<g shape-rendering="crispEdges">
<rect x="42.5" y="31.4" width="3.08" height="77" fill="#0505ff"/>
<rect x="45.28" y="31.4" width="3.08" height="77" fill="#0f0fff"/>
<rect x="48.06" y="31.4" width="3.08" height="77" fill="#1919ff"/>
<rect x="50.85" y="31.4" width="3.08" height="77" fill="#2424ff"/>
<rect x="53.63" y="31.4" width="3.08" height="77" fill="#2e2eff"/>
<rect x="56.41" y="31.4" width="3.08" height="77" fill="#3838ff"/>
<rect x="59.19" y="31.4" width="3.08" height="77" fill="#4242ff"/>
<rect x="61.97" y="31.4" width="3.08" height="77" fill="#4d4dff"/>
<rect x="64.76" y="31.4" width="3.08" height="77" fill="#5757ff"/>
<rect x="67.54" y="31.4" width="3.08" height="77" fill="#6161ff"/>
<rect x="70.32" y="31.4" width="3.08" height="77" fill="#6b6bff"/>
<rect x="73.1" y="31.4" width="3.08" height="77" fill="#7575ff"/>
<rect x="75.88" y="31.4" width="3.08" height="77" fill="#8080ff"/>
<rect x="78.67" y="31.4" width="3.08" height="77" fill="#8a8aff"/>
<rect x="81.45" y="31.4" width="3.08" height="77" fill="#9494ff"/>
<rect x="84.23" y="31.4" width="3.08" height="77" fill="#9e9eff"/>
<rect x="87.01" y="31.4" width="3.08" height="77" fill="#a8a8ff"/>
<rect x="89.79" y="31.4" width="3.08" height="77" fill="#b2b2ff"/>
<rect x="92.58" y="31.4" width="3.08" height="77" fill="#bdbdff"/>
<rect x="95.36" y="31.4" width="3.08" height="77" fill="#c7c7ff"/>
<rect x="98.14" y="31.4" width="3.08" height="77" fill="#d1d1ff"/>
<rect x="100.92" y="31.4" width="3.08" height="77" fill="#dbdbff"/>
<rect x="103.7" y="31.4" width="3.08" height="77" fill="#e6e6ff"/>
<rect x="106.49" y="31.4" width="3.08" height="77" fill="#f0f0ff"/>
<rect x="109.27" y="31.4" width="3.08" height="77" fill="#fafaff"/>
<rect x="112.05" y="31.4" width="3.08" height="77" fill="#fffafa"/>
<rect x="114.83" y="31.4" width="3.08" height="77" fill="#fff0f0"/>
<rect x="117.61" y="31.4" width="3.08" height="77" fill="#ffe5e5"/>
<rect x="120.4" y="31.4" width="3.08" height="77" fill="#ffdbdb"/>
<rect x="123.18" y="31.4" width="3.08" height="77" fill="#ffd1d1"/>
<rect x="125.96" y="31.4" width="3.08" height="77" fill="#ffc7c7"/>
<rect x="128.74" y="31.4" width="3.08" height="77" fill="#ffbdbd"/>
<rect x="131.52" y="31.4" width="3.08" height="77" fill="#ffb2b2"/>
<rect x="134.31" y="31.4" width="3.08" height="77" fill="#ffa8a8"/>
<rect x="137.09" y="31.4" width="3.08" height="77" fill="#ff9e9e"/>
<rect x="139.87" y="31.4" width="3.08" height="77" fill="#ff9494"/>
<rect x="142.65" y="31.4" width="3.08" height="77" fill="#ff8a8a"/>
<rect x="145.43" y="31.4" width="3.08" height="77" fill="#ff8080"/>
<rect x="148.22" y="31.4" width="3.08" height="77" fill="#ff7575"/>
<rect x="151" y="31.4" width="3.08" height="77" fill="#ff6b6b"/>
<rect x="153.78" y="31.4" width="3.08" height="77" fill="#ff6161"/>
<rect x="156.56" y="31.4" width="3.08" height="77" fill="#ff5757"/>
<rect x="159.34" y="31.4" width="3.08" height="77" fill="#ff4d4d"/>
<rect x="162.13" y="31.4" width="3.08" height="77" fill="#ff4242"/>
<rect x="164.91" y="31.4" width="3.08" height="77" fill="#ff3838"/>
<rect x="167.69" y="31.4" width="3.08" height="77" fill="#ff2e2e"/>
<rect x="170.47" y="31.4" width="3.08" height="77" fill="#ff2424"/>
<rect x="173.25" y="31.4" width="3.08" height="77" fill="#ff1a1a"/>
<rect x="176.04" y="31.4" width="3.08" height="77" fill="#ff0f0f"/>
<rect x="178.82" y="31.4" width="3.08" height="77" fill="#ff0505"/>
</g>
<path d="M43.1 108.4V107.27H44.68V101.59H47.46V103.86H50.25V103.86H53.03V97.05H55.81V99.89H58.59V95.92H61.37V102.73H64.16V87.97H66.94V85.7H69.72V82.3H72.5V78.89H75.28V98.19H78.07V78.89H80.85V77.76H83.63V75.49H86.41V65.27H89.19V72.08H91.98V49.38H94.76V55.06H97.54V40.3H100.32V52.79H103.1V40.3H105.89V34.62H108.67V47.11H111.45V49.38H114.23V63H117.01V58.46H119.8V65.84H122.58V69.24H125.36V76.05H128.14V67.54H130.92V78.89H133.71V82.3H136.49V77.76H139.27V87.97H142.05V93.65H144.83V98.98H147.62V95.92H150.4V101.59H153.18V98.64H155.96V101.59H158.74V107.27H161.53V99.66H164.31V106.7H167.09V108.4H169.87V108.4H172.65V106.13H175.44V102.73H178.22V105H181" stroke="#10f0ff" stroke-width="0.9" fill="none"/>
<rect x="42.5" y="31.4" width="139.1" height="77" fill="none" stroke="#000" stroke-width="1.2"/>
<path d="M65.9 108.4H164.46M65.9 108.4V115.6M90.54 108.4V115.6M115.18 108.4V115.6M139.82 108.4V115.6M164.46 108.4V115.6M42.5 108.4V40.3M42.5 108.4H35.3M42.5 97.05H35.3M42.5 85.7H35.3M42.5 74.35H35.3M42.5 63H35.3M42.5 51.65H35.3M42.5 40.3H35.3" stroke="#000" stroke-width="1.2" fill="none"/>
<g font-size="10" text-anchor="middle" fill="#000">
<text transform="translate(65.9 126.1)">8</text>
<text transform="translate(90.54 126.1)">10</text>
<text transform="translate(115.18 126.1)">12</text>
<text transform="translate(139.82 126.1)">14</text>
<text transform="translate(164.46 126.1)">16</text>
<text transform="translate(32.0 108.4) rotate(-90)">0</text>
<text transform="translate(32.0 85.7) rotate(-90)">20</text>
<text transform="translate(32.0 63) rotate(-90)">40</text>
<text transform="translate(32.0 40.3) rotate(-90)">60</text>
</g>
<text x="110.7" y="143" font-size="13.9" text-anchor="middle">Value</text>
<text transform="translate(16.7 70) rotate(-90)" font-size="13.5" text-anchor="middle">Count</text>
<g font-size="12.3" font-weight="bold" text-anchor="middle"><text x="115.7" y="8.8">Colour key</text><text x="112.35" y="26.1" textLength="85.5" lengthAdjust="spacingAndGlyphs">and histogram</text></g>
</svg>
</body></html>
